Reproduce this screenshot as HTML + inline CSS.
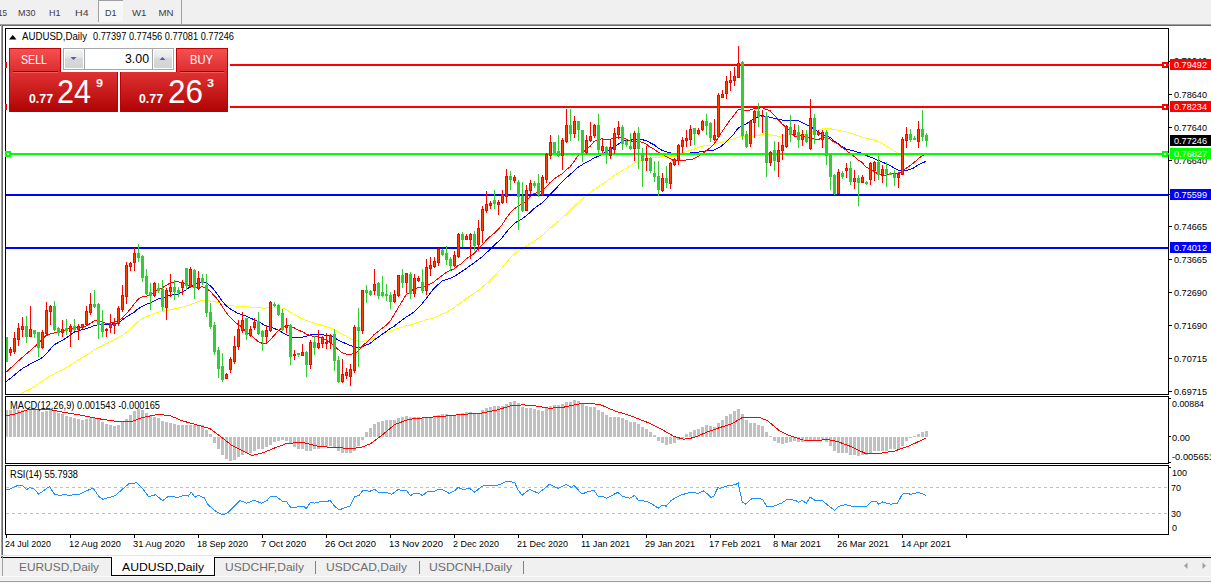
<!DOCTYPE html>
<html><head><meta charset="utf-8"><style>
html,body{margin:0;padding:0;background:#f0f0f0;}
svg{display:block;font-family:"Liberation Sans", sans-serif;}
</style></head><body>
<svg width="1211" height="583" viewBox="0 0 1211 583" shape-rendering="crispEdges">
<rect x="0" y="0" width="1211" height="583" fill="#f0f0f0"/>
<rect x="0" y="26" width="1211" height="531" fill="#ffffff"/>
<rect x="0" y="24" width="1211" height="1" fill="#a0a0a0"/>
<rect x="0" y="25" width="1211" height="1" fill="#696969"/>
<rect x="1" y="24" width="1" height="553" fill="#a0a0a0"/>
<rect x="2" y="25" width="1" height="551" fill="#696969"/>
<rect x="98" y="0" width="25" height="22" fill="#f7f7f7"/>
<rect x="98" y="0" width="25" height="1" fill="#a0a0a0"/>
<rect x="98" y="0" width="1" height="22" fill="#a0a0a0"/>
<rect x="181" y="0" width="1" height="24" fill="#a0a0a0"/>
<text x="-2" y="16" font-size="9.6" fill="#3c3c3c" textLength="9" lengthAdjust="spacingAndGlyphs">15</text>
<text x="18" y="16" font-size="9.6" fill="#3c3c3c" textLength="17.5" lengthAdjust="spacingAndGlyphs">M30</text>
<text x="49" y="16" font-size="9.6" fill="#3c3c3c" textLength="11.5" lengthAdjust="spacingAndGlyphs">H1</text>
<text x="75" y="16" font-size="9.6" fill="#3c3c3c" textLength="13.5" lengthAdjust="spacingAndGlyphs">H4</text>
<text x="105" y="16" font-size="9.6" fill="#3c3c3c" textLength="11.5" lengthAdjust="spacingAndGlyphs">D1</text>
<text x="132" y="16" font-size="9.6" fill="#3c3c3c" textLength="14.5" lengthAdjust="spacingAndGlyphs">W1</text>
<text x="158.5" y="16" font-size="9.6" fill="#3c3c3c" textLength="15" lengthAdjust="spacingAndGlyphs">MN</text>
<rect x="5" y="28" width="1164" height="1" fill="#000"/>
<rect x="5" y="394" width="1164" height="1" fill="#000"/>
<rect x="5" y="28" width="1" height="367" fill="#000"/>
<rect x="1168" y="28" width="1" height="367" fill="#000"/>
<rect x="5" y="396" width="1164" height="1" fill="#000"/>
<rect x="5" y="463" width="1164" height="1" fill="#000"/>
<rect x="5" y="396" width="1" height="68" fill="#000"/>
<rect x="1168" y="396" width="1" height="68" fill="#000"/>
<rect x="5" y="465" width="1164" height="1" fill="#000"/>
<rect x="5" y="534" width="1164" height="1" fill="#000"/>
<rect x="5" y="465" width="1" height="70" fill="#000"/>
<rect x="1168" y="465" width="1" height="70" fill="#000"/>
<defs><clipPath id="cm"><rect x="6" y="29" width="1162" height="365"/></clipPath><clipPath id="cd"><rect x="6" y="397" width="1162" height="66"/></clipPath><clipPath id="cr"><rect x="6" y="466" width="1162" height="68"/></clipPath></defs>
<g clip-path="url(#cm)">
<polyline points="6.0,404.0 10.0,401.1 14.0,398.2 18.0,395.3 22.0,393.0 26.0,391.2 30.0,389.3 34.0,386.6 38.0,383.9 42.0,381.2 46.0,378.5 50.0,375.8 54.0,373.9 58.0,371.9 62.0,370.0 66.0,367.8 70.0,365.3 74.0,362.8 78.0,360.4 82.0,357.8 86.0,355.3 90.0,352.8 94.0,350.2 98.0,347.7 102.0,345.7 106.0,343.7 110.0,341.7 114.0,339.7 118.0,337.7 122.0,335.6 126.0,332.7 130.0,329.0 134.0,325.4 138.0,321.7 142.0,318.6 146.0,317.0 150.0,315.4 154.0,313.7 158.0,312.1 162.0,311.5 166.0,310.7 170.0,309.8 174.0,308.9 178.0,308.2 182.0,307.3 186.0,306.1 190.0,304.6 194.0,303.4 198.0,301.7 202.0,300.4 206.0,300.5 210.0,301.0 214.0,301.5 218.0,302.4 222.0,303.7 226.0,304.8 230.0,305.6 234.0,306.0 238.0,306.1 242.0,306.0 246.0,306.6 250.0,307.2 254.0,307.6 258.0,307.8 262.0,308.0 266.0,308.0 270.0,307.5 274.0,307.0 278.0,307.2 282.0,308.0 286.0,309.5 290.0,311.9 294.0,314.4 298.0,316.8 302.0,318.7 306.0,320.4 310.0,321.6 314.0,323.2 318.0,324.5 322.0,325.3 326.0,326.6 330.0,327.8 334.0,329.5 338.0,331.7 342.0,334.0 346.0,336.2 350.0,338.7 354.0,339.7 358.0,341.0 362.0,341.2 366.0,340.8 370.0,340.0 374.0,338.3 378.0,336.5 382.0,334.4 386.0,332.4 390.0,330.9 394.0,329.6 398.0,328.2 402.0,327.3 406.0,325.8 410.0,324.9 414.0,323.8 418.0,322.4 422.0,321.3 426.0,319.7 430.0,318.8 434.0,317.7 438.0,316.0 442.0,314.1 446.0,312.5 450.0,310.2 454.0,307.7 458.0,304.7 462.0,301.9 466.0,298.7 470.0,296.0 474.0,293.5 478.0,290.6 482.0,287.4 486.0,283.9 490.0,280.7 494.0,276.7 498.0,272.2 502.0,267.7 506.0,262.8 510.0,258.1 514.0,254.3 518.0,251.0 522.0,249.0 526.0,246.4 530.0,243.6 534.0,241.2 538.0,238.7 542.0,235.7 546.0,232.2 550.0,228.2 554.0,224.7 558.0,221.7 562.0,218.1 566.0,214.4 570.0,210.4 574.0,206.5 578.0,202.8 582.0,199.3 586.0,196.2 590.0,192.9 594.0,189.5 598.0,187.0 602.0,184.3 606.0,181.7 610.0,178.8 614.0,175.7 618.0,173.1 622.0,170.7 626.0,168.4 630.0,166.2 634.0,163.4 638.0,161.4 642.0,160.2 646.0,159.0 650.0,158.2 654.0,157.5 658.0,157.2 662.0,156.8 666.0,157.0 670.0,156.6 674.0,156.2 678.0,154.9 682.0,153.1 686.0,151.8 690.0,150.5 694.0,149.2 698.0,147.6 702.0,146.2 706.0,145.5 710.0,145.3 714.0,144.9 718.0,143.4 722.0,142.3 726.0,141.2 730.0,139.8 734.0,138.7 738.0,137.1 742.0,136.7 746.0,136.8 750.0,136.4 754.0,136.1 758.0,135.3 762.0,134.5 766.0,134.7 770.0,134.8 774.0,135.5 778.0,136.1 782.0,136.1 786.0,135.7 790.0,135.3 794.0,135.3 798.0,135.1 802.0,134.4 806.0,134.0 810.0,132.7 814.0,131.6 818.0,130.2 822.0,129.0 826.0,128.4 830.0,128.7 834.0,129.5 838.0,130.2 842.0,131.1 846.0,131.8 850.0,133.1 854.0,134.3 858.0,135.5 862.0,137.0 866.0,138.4 870.0,139.1 874.0,139.7 878.0,141.7 882.0,143.6 886.0,145.9 890.0,148.2 894.0,150.8 898.0,153.5 902.0,153.6 906.0,153.3 910.0,153.7 914.0,154.4 918.0,154.7 922.0,155.2 926.0,154.7" fill="none" stroke="#ffff00" stroke-width="1"/>
<polyline points="6.0,381.9 10.0,378.6 14.0,375.3 18.0,372.1 22.0,368.8 26.0,366.4 30.0,364.2 34.0,362.1 38.0,360.0 42.0,357.8 46.0,354.1 50.0,349.4 54.0,344.8 58.0,342.7 62.0,340.6 66.0,338.0 70.0,335.1 74.0,332.2 78.0,330.9 82.0,329.8 86.0,328.8 90.0,327.3 94.0,325.7 98.0,324.8 102.0,324.8 106.0,324.8 110.0,324.2 114.0,323.9 118.0,322.7 122.0,320.2 126.0,317.0 130.0,314.8 134.0,312.3 138.0,308.9 142.0,306.3 146.0,304.6 150.0,302.9 154.0,300.9 158.0,299.0 162.0,298.1 166.0,296.5 170.0,295.4 174.0,294.7 178.0,294.0 182.0,292.1 186.0,289.9 190.0,287.0 194.0,285.3 198.0,283.1 202.0,281.9 206.0,282.7 210.0,285.6 214.0,289.7 218.0,295.2 222.0,301.0 226.0,305.6 230.0,308.7 234.0,311.2 238.0,313.4 242.0,314.8 246.0,316.1 250.0,318.0 254.0,319.6 258.0,321.6 262.0,323.7 266.0,326.0 270.0,326.8 274.0,328.5 278.0,329.9 282.0,332.3 286.0,334.4 290.0,336.5 294.0,337.8 298.0,338.0 302.0,337.2 306.0,336.5 310.0,335.0 314.0,334.4 318.0,334.2 322.0,334.6 326.0,335.6 330.0,335.7 334.0,337.2 338.0,340.0 342.0,341.9 346.0,343.7 350.0,345.5 354.0,346.7 358.0,347.9 362.0,346.8 366.0,345.0 370.0,343.5 374.0,340.1 378.0,337.3 382.0,334.4 386.0,331.7 390.0,328.7 394.0,326.4 398.0,323.0 402.0,320.1 406.0,317.1 410.0,314.7 414.0,312.0 418.0,308.1 422.0,303.8 426.0,298.7 430.0,293.6 434.0,288.4 438.0,284.7 442.0,281.1 446.0,279.6 450.0,278.3 454.0,276.5 458.0,274.1 462.0,271.4 466.0,268.6 470.0,265.7 474.0,263.0 478.0,259.9 482.0,256.8 486.0,253.1 490.0,249.7 494.0,245.5 498.0,241.8 502.0,237.8 506.0,232.4 510.0,228.2 514.0,224.0 518.0,220.9 522.0,219.0 526.0,216.0 530.0,212.4 534.0,208.6 538.0,205.7 542.0,203.0 546.0,198.9 550.0,194.5 554.0,190.6 558.0,186.3 562.0,182.1 566.0,178.0 570.0,174.7 574.0,170.8 578.0,167.3 582.0,164.9 586.0,162.3 590.0,160.5 594.0,157.9 598.0,156.5 602.0,154.2 606.0,151.5 610.0,149.5 614.0,147.1 618.0,144.3 622.0,141.9 626.0,140.3 630.0,140.0 634.0,139.6 638.0,139.4 642.0,139.7 646.0,140.5 650.0,142.7 654.0,144.7 658.0,147.9 662.0,150.3 666.0,151.8 670.0,152.8 674.0,153.9 678.0,154.9 682.0,154.5 686.0,154.1 690.0,152.9 694.0,152.2 698.0,152.1 702.0,151.8 706.0,150.9 710.0,150.6 714.0,150.0 718.0,148.2 722.0,145.6 726.0,141.9 730.0,138.2 734.0,133.7 738.0,128.3 742.0,125.7 746.0,124.2 750.0,121.3 754.0,118.8 758.0,116.8 762.0,115.4 766.0,116.4 770.0,117.1 774.0,118.5 778.0,119.3 782.0,120.0 786.0,120.3 790.0,120.7 794.0,120.4 798.0,120.6 802.0,122.5 806.0,124.7 810.0,126.4 814.0,129.1 818.0,131.8 822.0,135.0 826.0,136.0 830.0,137.4 834.0,140.8 838.0,143.7 842.0,146.5 846.0,149.0 850.0,149.9 854.0,151.1 858.0,152.2 862.0,153.5 866.0,155.3 870.0,157.1 874.0,158.3 878.0,160.4 882.0,161.9 886.0,163.7 890.0,165.3 894.0,168.1 898.0,170.0 902.0,170.3 906.0,170.4 910.0,169.6 914.0,167.8 918.0,164.8 922.0,163.1 926.0,161.4" fill="none" stroke="#0000ff" stroke-width="1"/>
<polyline points="6.0,372.2 10.0,368.6 14.0,364.9 18.0,361.3 22.0,357.7 26.0,354.2 30.0,350.8 34.0,347.3 38.0,343.6 42.0,339.6 46.0,335.6 50.0,334.0 54.0,333.1 58.0,332.3 62.0,331.1 66.0,329.7 70.0,328.5 74.0,328.0 78.0,327.9 82.0,327.2 86.0,325.9 90.0,323.8 94.0,320.9 98.0,320.3 102.0,321.8 106.0,323.4 110.0,323.1 114.0,322.4 118.0,320.9 122.0,318.4 126.0,314.1 130.0,309.4 134.0,304.2 138.0,299.4 142.0,297.0 146.0,296.2 150.0,295.4 154.0,292.5 158.0,289.6 162.0,288.0 166.0,285.6 170.0,283.1 174.0,281.9 178.0,281.6 182.0,282.8 186.0,284.4 190.0,285.5 194.0,287.6 198.0,287.6 202.0,286.8 206.0,288.0 210.0,291.1 214.0,295.4 218.0,299.8 222.0,306.2 226.0,312.3 230.0,317.2 234.0,321.2 238.0,324.5 242.0,327.0 246.0,331.7 250.0,334.6 254.0,337.8 258.0,341.5 262.0,343.2 266.0,343.5 270.0,340.1 274.0,335.5 278.0,330.9 282.0,327.7 286.0,325.3 290.0,326.0 294.0,327.7 298.0,330.2 302.0,331.5 306.0,334.0 310.0,335.4 314.0,336.4 318.0,336.9 322.0,337.4 326.0,340.2 330.0,342.3 334.0,345.6 338.0,349.4 342.0,352.8 346.0,354.0 350.0,355.1 354.0,353.1 358.0,351.5 362.0,346.3 366.0,342.8 370.0,339.0 374.0,334.7 378.0,331.7 382.0,328.4 386.0,325.5 390.0,321.3 394.0,315.1 398.0,308.0 402.0,301.5 406.0,294.7 410.0,292.2 414.0,288.6 418.0,287.7 422.0,287.5 426.0,285.6 430.0,284.2 434.0,281.8 438.0,278.6 442.0,275.6 446.0,272.7 450.0,270.6 454.0,269.1 458.0,265.7 462.0,263.3 466.0,259.2 470.0,256.0 474.0,253.7 478.0,249.2 482.0,245.1 486.0,240.7 490.0,236.6 494.0,233.3 498.0,229.6 502.0,224.9 506.0,218.6 510.0,213.2 514.0,209.1 518.0,206.0 522.0,204.2 526.0,201.1 530.0,196.7 534.0,193.6 538.0,192.5 542.0,190.6 546.0,187.1 550.0,182.7 554.0,179.1 558.0,176.4 562.0,173.8 566.0,169.9 570.0,166.8 574.0,161.5 578.0,155.7 582.0,153.0 586.0,149.9 590.0,146.4 594.0,141.5 598.0,139.5 602.0,138.9 606.0,139.8 610.0,139.5 614.0,137.9 618.0,137.0 622.0,138.3 626.0,139.0 630.0,140.9 634.0,141.2 638.0,140.9 642.0,142.3 646.0,143.9 650.0,147.1 654.0,149.1 658.0,152.1 662.0,153.9 666.0,156.4 670.0,158.5 674.0,160.8 678.0,160.9 682.0,160.7 686.0,160.0 690.0,159.8 694.0,158.7 698.0,156.5 702.0,153.9 706.0,150.7 710.0,147.9 714.0,144.0 718.0,138.1 722.0,131.7 726.0,125.9 730.0,120.2 734.0,115.3 738.0,109.8 742.0,109.6 746.0,110.8 750.0,110.0 754.0,108.6 758.0,108.3 762.0,107.6 766.0,109.4 770.0,110.6 774.0,115.2 778.0,119.2 782.0,123.8 786.0,127.1 790.0,131.3 794.0,136.1 798.0,136.3 802.0,135.4 806.0,136.9 810.0,137.4 814.0,138.6 818.0,139.8 822.0,137.7 826.0,137.9 830.0,139.1 834.0,142.1 838.0,144.0 842.0,147.6 846.0,150.0 850.0,153.6 854.0,156.4 858.0,159.8 862.0,162.4 866.0,167.0 870.0,169.1 874.0,171.2 878.0,174.2 882.0,175.2 886.0,175.0 890.0,173.7 894.0,174.0 898.0,173.8 902.0,171.8 906.0,168.4 910.0,165.6 914.0,162.5 918.0,159.1 922.0,155.8 926.0,154.1" fill="none" stroke="#ff0000" stroke-width="1"/>
<rect x="6" y="64" width="1162" height="2" fill="#ff0000"/>
<rect x="6" y="106" width="1162" height="2" fill="#ff0000"/>
<rect x="6" y="153" width="1162" height="2" fill="#00ff00"/>
<rect x="6" y="194" width="1162" height="2" fill="#0000ff"/>
<rect x="6" y="247" width="1162" height="2" fill="#0000ff"/>
<rect x="6" y="337" width="1" height="25" fill="#32cd32"/>
<rect x="5" y="337" width="3" height="25" fill="#32cd32"/>
<rect x="10" y="347" width="1" height="9" fill="#ff0000"/>
<rect x="9" y="349" width="3" height="4" fill="#ff0000"/>
<rect x="10" y="350" width="1" height="2" fill="#ff4000"/>
<rect x="14" y="332" width="1" height="22" fill="#ff0000"/>
<rect x="13" y="338" width="3" height="14" fill="#ff0000"/>
<rect x="14" y="339" width="1" height="12" fill="#ff4000"/>
<rect x="18" y="323" width="1" height="23" fill="#ff0000"/>
<rect x="17" y="328" width="3" height="12" fill="#ff0000"/>
<rect x="18" y="329" width="1" height="10" fill="#ff4000"/>
<rect x="22" y="317" width="1" height="20" fill="#ff0000"/>
<rect x="21" y="326" width="3" height="4" fill="#ff0000"/>
<rect x="22" y="327" width="1" height="2" fill="#ff4000"/>
<rect x="26" y="316" width="1" height="27" fill="#32cd32"/>
<rect x="25" y="326" width="3" height="11" fill="#32cd32"/>
<rect x="30" y="306" width="1" height="31" fill="#ff0000"/>
<rect x="29" y="329" width="3" height="8" fill="#ff0000"/>
<rect x="30" y="330" width="1" height="6" fill="#ff4000"/>
<rect x="34" y="330" width="1" height="8" fill="#32cd32"/>
<rect x="33" y="330" width="3" height="4" fill="#32cd32"/>
<rect x="38" y="332" width="1" height="25" fill="#32cd32"/>
<rect x="37" y="332" width="3" height="16" fill="#32cd32"/>
<rect x="42" y="330" width="1" height="19" fill="#ff0000"/>
<rect x="41" y="332" width="3" height="16" fill="#ff0000"/>
<rect x="42" y="333" width="1" height="14" fill="#ff4000"/>
<rect x="46" y="302" width="1" height="34" fill="#ff0000"/>
<rect x="45" y="310" width="3" height="24" fill="#ff0000"/>
<rect x="46" y="311" width="1" height="22" fill="#ff4000"/>
<rect x="50" y="305" width="1" height="20" fill="#ff0000"/>
<rect x="49" y="306" width="3" height="6" fill="#ff0000"/>
<rect x="50" y="307" width="1" height="4" fill="#ff4000"/>
<rect x="54" y="301" width="1" height="30" fill="#32cd32"/>
<rect x="53" y="306" width="3" height="24" fill="#32cd32"/>
<rect x="58" y="327" width="1" height="9" fill="#32cd32"/>
<rect x="57" y="328" width="3" height="5" fill="#32cd32"/>
<rect x="62" y="320" width="1" height="17" fill="#ff0000"/>
<rect x="61" y="329" width="3" height="4" fill="#ff0000"/>
<rect x="62" y="330" width="1" height="2" fill="#ff4000"/>
<rect x="66" y="319" width="1" height="16" fill="#32cd32"/>
<rect x="65" y="328" width="3" height="3" fill="#32cd32"/>
<rect x="70" y="324" width="1" height="23" fill="#ff0000"/>
<rect x="69" y="326" width="3" height="6" fill="#ff0000"/>
<rect x="70" y="327" width="1" height="4" fill="#ff4000"/>
<rect x="74" y="319" width="1" height="12" fill="#32cd32"/>
<rect x="73" y="326" width="3" height="4" fill="#32cd32"/>
<rect x="78" y="324" width="1" height="16" fill="#ff0000"/>
<rect x="77" y="326" width="3" height="4" fill="#ff0000"/>
<rect x="78" y="327" width="1" height="2" fill="#ff4000"/>
<rect x="82" y="324" width="1" height="5" fill="#ff0000"/>
<rect x="81" y="324" width="3" height="4" fill="#ff0000"/>
<rect x="82" y="325" width="1" height="2" fill="#ff4000"/>
<rect x="86" y="306" width="1" height="20" fill="#ff0000"/>
<rect x="85" y="311" width="3" height="14" fill="#ff0000"/>
<rect x="86" y="312" width="1" height="12" fill="#ff4000"/>
<rect x="90" y="293" width="1" height="22" fill="#ff0000"/>
<rect x="89" y="304" width="3" height="9" fill="#ff0000"/>
<rect x="90" y="305" width="1" height="7" fill="#ff4000"/>
<rect x="94" y="290" width="1" height="18" fill="#32cd32"/>
<rect x="93" y="304" width="3" height="3" fill="#32cd32"/>
<rect x="98" y="303" width="1" height="36" fill="#32cd32"/>
<rect x="97" y="304" width="3" height="21" fill="#32cd32"/>
<rect x="102" y="310" width="1" height="27" fill="#32cd32"/>
<rect x="101" y="323" width="3" height="9" fill="#32cd32"/>
<rect x="106" y="328" width="1" height="9" fill="#ff0000"/>
<rect x="105" y="329" width="3" height="2" fill="#ff0000"/>
<rect x="110" y="314" width="1" height="19" fill="#ff0000"/>
<rect x="109" y="324" width="3" height="4" fill="#ff0000"/>
<rect x="110" y="325" width="1" height="2" fill="#ff4000"/>
<rect x="114" y="318" width="1" height="16" fill="#ff0000"/>
<rect x="113" y="323" width="3" height="3" fill="#ff0000"/>
<rect x="114" y="324" width="1" height="1" fill="#ff4000"/>
<rect x="118" y="306" width="1" height="20" fill="#ff0000"/>
<rect x="117" y="308" width="3" height="16" fill="#ff0000"/>
<rect x="118" y="309" width="1" height="14" fill="#ff4000"/>
<rect x="122" y="285" width="1" height="27" fill="#ff0000"/>
<rect x="121" y="295" width="3" height="15" fill="#ff0000"/>
<rect x="122" y="296" width="1" height="13" fill="#ff4000"/>
<rect x="126" y="262" width="1" height="42" fill="#ff0000"/>
<rect x="125" y="265" width="3" height="32" fill="#ff0000"/>
<rect x="126" y="266" width="1" height="30" fill="#ff4000"/>
<rect x="130" y="262" width="1" height="9" fill="#ff0000"/>
<rect x="129" y="263" width="3" height="4" fill="#ff0000"/>
<rect x="130" y="264" width="1" height="2" fill="#ff4000"/>
<rect x="134" y="248" width="1" height="23" fill="#ff0000"/>
<rect x="133" y="253" width="3" height="10" fill="#ff0000"/>
<rect x="134" y="254" width="1" height="8" fill="#ff4000"/>
<rect x="138" y="244" width="1" height="18" fill="#32cd32"/>
<rect x="137" y="253" width="3" height="5" fill="#32cd32"/>
<rect x="142" y="255" width="1" height="27" fill="#32cd32"/>
<rect x="141" y="256" width="3" height="22" fill="#32cd32"/>
<rect x="146" y="269" width="1" height="26" fill="#32cd32"/>
<rect x="145" y="276" width="3" height="18" fill="#32cd32"/>
<rect x="150" y="283" width="1" height="27" fill="#32cd32"/>
<rect x="149" y="292" width="3" height="4" fill="#32cd32"/>
<rect x="154" y="282" width="1" height="15" fill="#ff0000"/>
<rect x="153" y="283" width="3" height="13" fill="#ff0000"/>
<rect x="154" y="284" width="1" height="11" fill="#ff4000"/>
<rect x="158" y="283" width="1" height="10" fill="#32cd32"/>
<rect x="157" y="288" width="3" height="3" fill="#32cd32"/>
<rect x="162" y="280" width="1" height="31" fill="#32cd32"/>
<rect x="161" y="289" width="3" height="18" fill="#32cd32"/>
<rect x="166" y="288" width="1" height="32" fill="#ff0000"/>
<rect x="165" y="290" width="3" height="18" fill="#ff0000"/>
<rect x="166" y="291" width="1" height="16" fill="#ff4000"/>
<rect x="170" y="274" width="1" height="23" fill="#ff0000"/>
<rect x="169" y="287" width="3" height="5" fill="#ff0000"/>
<rect x="170" y="288" width="1" height="3" fill="#ff4000"/>
<rect x="174" y="280" width="1" height="20" fill="#32cd32"/>
<rect x="173" y="287" width="3" height="5" fill="#32cd32"/>
<rect x="178" y="287" width="1" height="10" fill="#32cd32"/>
<rect x="177" y="290" width="3" height="3" fill="#32cd32"/>
<rect x="182" y="280" width="1" height="15" fill="#ff0000"/>
<rect x="181" y="282" width="3" height="6" fill="#ff0000"/>
<rect x="182" y="283" width="1" height="4" fill="#ff4000"/>
<rect x="186" y="268" width="1" height="22" fill="#32cd32"/>
<rect x="185" y="268" width="3" height="18" fill="#32cd32"/>
<rect x="190" y="267" width="1" height="21" fill="#ff0000"/>
<rect x="189" y="269" width="3" height="18" fill="#ff0000"/>
<rect x="190" y="270" width="1" height="16" fill="#ff4000"/>
<rect x="194" y="269" width="1" height="30" fill="#32cd32"/>
<rect x="193" y="270" width="3" height="18" fill="#32cd32"/>
<rect x="198" y="271" width="1" height="19" fill="#ff0000"/>
<rect x="197" y="278" width="3" height="11" fill="#ff0000"/>
<rect x="198" y="279" width="1" height="9" fill="#ff4000"/>
<rect x="202" y="274" width="1" height="11" fill="#32cd32"/>
<rect x="201" y="278" width="3" height="5" fill="#32cd32"/>
<rect x="206" y="274" width="1" height="43" fill="#32cd32"/>
<rect x="205" y="285" width="3" height="28" fill="#32cd32"/>
<rect x="210" y="303" width="1" height="26" fill="#32cd32"/>
<rect x="209" y="312" width="3" height="15" fill="#32cd32"/>
<rect x="214" y="322" width="1" height="33" fill="#32cd32"/>
<rect x="213" y="325" width="3" height="27" fill="#32cd32"/>
<rect x="218" y="347" width="1" height="31" fill="#32cd32"/>
<rect x="217" y="350" width="3" height="19" fill="#32cd32"/>
<rect x="222" y="353" width="1" height="29" fill="#32cd32"/>
<rect x="221" y="366" width="3" height="14" fill="#32cd32"/>
<rect x="226" y="373" width="1" height="6" fill="#ff0000"/>
<rect x="225" y="374" width="3" height="5" fill="#ff0000"/>
<rect x="226" y="375" width="1" height="3" fill="#ff4000"/>
<rect x="230" y="357" width="1" height="16" fill="#ff0000"/>
<rect x="229" y="359" width="3" height="11" fill="#ff0000"/>
<rect x="230" y="360" width="1" height="9" fill="#ff4000"/>
<rect x="234" y="336" width="1" height="28" fill="#ff0000"/>
<rect x="233" y="346" width="3" height="16" fill="#ff0000"/>
<rect x="234" y="347" width="1" height="14" fill="#ff4000"/>
<rect x="238" y="320" width="1" height="30" fill="#ff0000"/>
<rect x="237" y="329" width="3" height="18" fill="#ff0000"/>
<rect x="238" y="330" width="1" height="16" fill="#ff4000"/>
<rect x="242" y="312" width="1" height="21" fill="#ff0000"/>
<rect x="241" y="320" width="3" height="11" fill="#ff0000"/>
<rect x="242" y="321" width="1" height="9" fill="#ff4000"/>
<rect x="246" y="318" width="1" height="22" fill="#32cd32"/>
<rect x="245" y="318" width="3" height="17" fill="#32cd32"/>
<rect x="250" y="326" width="1" height="11" fill="#ff0000"/>
<rect x="249" y="329" width="3" height="7" fill="#ff0000"/>
<rect x="250" y="330" width="1" height="5" fill="#ff4000"/>
<rect x="254" y="318" width="1" height="12" fill="#ff0000"/>
<rect x="253" y="322" width="3" height="6" fill="#ff0000"/>
<rect x="254" y="323" width="1" height="4" fill="#ff4000"/>
<rect x="258" y="312" width="1" height="23" fill="#32cd32"/>
<rect x="257" y="321" width="3" height="13" fill="#32cd32"/>
<rect x="262" y="330" width="1" height="21" fill="#32cd32"/>
<rect x="261" y="331" width="3" height="6" fill="#32cd32"/>
<rect x="266" y="325" width="1" height="18" fill="#ff0000"/>
<rect x="265" y="330" width="3" height="7" fill="#ff0000"/>
<rect x="266" y="331" width="1" height="5" fill="#ff4000"/>
<rect x="270" y="301" width="1" height="31" fill="#ff0000"/>
<rect x="269" y="302" width="3" height="29" fill="#ff0000"/>
<rect x="270" y="303" width="1" height="27" fill="#ff4000"/>
<rect x="274" y="302" width="1" height="5" fill="#32cd32"/>
<rect x="273" y="304" width="3" height="2" fill="#32cd32"/>
<rect x="278" y="304" width="1" height="12" fill="#32cd32"/>
<rect x="277" y="305" width="3" height="10" fill="#32cd32"/>
<rect x="282" y="309" width="1" height="22" fill="#32cd32"/>
<rect x="281" y="313" width="3" height="17" fill="#32cd32"/>
<rect x="286" y="318" width="1" height="15" fill="#ff0000"/>
<rect x="285" y="325" width="3" height="3" fill="#ff0000"/>
<rect x="286" y="326" width="1" height="1" fill="#ff4000"/>
<rect x="290" y="324" width="1" height="41" fill="#32cd32"/>
<rect x="289" y="325" width="3" height="32" fill="#32cd32"/>
<rect x="294" y="350" width="1" height="10" fill="#ff0000"/>
<rect x="293" y="354" width="3" height="2" fill="#ff0000"/>
<rect x="298" y="353" width="1" height="4" fill="#32cd32"/>
<rect x="297" y="353" width="3" height="2" fill="#32cd32"/>
<rect x="302" y="344" width="1" height="12" fill="#ff0000"/>
<rect x="301" y="352" width="3" height="4" fill="#ff0000"/>
<rect x="302" y="353" width="1" height="2" fill="#ff4000"/>
<rect x="306" y="351" width="1" height="26" fill="#32cd32"/>
<rect x="305" y="352" width="3" height="13" fill="#32cd32"/>
<rect x="310" y="340" width="1" height="29" fill="#ff0000"/>
<rect x="309" y="342" width="3" height="23" fill="#ff0000"/>
<rect x="310" y="343" width="1" height="21" fill="#ff4000"/>
<rect x="314" y="336" width="1" height="19" fill="#32cd32"/>
<rect x="313" y="342" width="3" height="6" fill="#32cd32"/>
<rect x="318" y="330" width="1" height="19" fill="#ff0000"/>
<rect x="317" y="343" width="3" height="5" fill="#ff0000"/>
<rect x="318" y="344" width="1" height="3" fill="#ff4000"/>
<rect x="322" y="336" width="1" height="12" fill="#ff0000"/>
<rect x="321" y="337" width="3" height="7" fill="#ff0000"/>
<rect x="322" y="338" width="1" height="5" fill="#ff4000"/>
<rect x="326" y="333" width="1" height="16" fill="#ff0000"/>
<rect x="325" y="342" width="3" height="2" fill="#ff0000"/>
<rect x="330" y="334" width="1" height="15" fill="#ff0000"/>
<rect x="329" y="335" width="3" height="8" fill="#ff0000"/>
<rect x="330" y="336" width="1" height="6" fill="#ff4000"/>
<rect x="334" y="329" width="1" height="42" fill="#32cd32"/>
<rect x="333" y="334" width="3" height="27" fill="#32cd32"/>
<rect x="338" y="356" width="1" height="27" fill="#32cd32"/>
<rect x="337" y="360" width="3" height="22" fill="#32cd32"/>
<rect x="342" y="359" width="1" height="24" fill="#ff0000"/>
<rect x="341" y="374" width="3" height="8" fill="#ff0000"/>
<rect x="342" y="375" width="1" height="6" fill="#ff4000"/>
<rect x="346" y="368" width="1" height="11" fill="#ff0000"/>
<rect x="345" y="372" width="3" height="4" fill="#ff0000"/>
<rect x="346" y="373" width="1" height="2" fill="#ff4000"/>
<rect x="350" y="364" width="1" height="22" fill="#ff0000"/>
<rect x="349" y="369" width="3" height="8" fill="#ff0000"/>
<rect x="350" y="370" width="1" height="6" fill="#ff4000"/>
<rect x="354" y="325" width="1" height="48" fill="#ff0000"/>
<rect x="353" y="327" width="3" height="44" fill="#ff0000"/>
<rect x="354" y="328" width="1" height="42" fill="#ff4000"/>
<rect x="358" y="308" width="1" height="59" fill="#32cd32"/>
<rect x="357" y="327" width="3" height="4" fill="#32cd32"/>
<rect x="362" y="290" width="1" height="44" fill="#ff0000"/>
<rect x="361" y="290" width="3" height="41" fill="#ff0000"/>
<rect x="362" y="291" width="1" height="39" fill="#ff4000"/>
<rect x="366" y="285" width="1" height="18" fill="#32cd32"/>
<rect x="365" y="290" width="3" height="3" fill="#32cd32"/>
<rect x="370" y="290" width="1" height="6" fill="#32cd32"/>
<rect x="369" y="291" width="3" height="4" fill="#32cd32"/>
<rect x="374" y="269" width="1" height="26" fill="#ff0000"/>
<rect x="373" y="284" width="3" height="7" fill="#ff0000"/>
<rect x="374" y="285" width="1" height="5" fill="#ff4000"/>
<rect x="378" y="282" width="1" height="17" fill="#32cd32"/>
<rect x="377" y="283" width="3" height="13" fill="#32cd32"/>
<rect x="382" y="276" width="1" height="21" fill="#32cd32"/>
<rect x="381" y="292" width="3" height="4" fill="#32cd32"/>
<rect x="386" y="284" width="1" height="17" fill="#32cd32"/>
<rect x="385" y="294" width="3" height="2" fill="#32cd32"/>
<rect x="390" y="292" width="1" height="17" fill="#32cd32"/>
<rect x="389" y="295" width="3" height="7" fill="#32cd32"/>
<rect x="394" y="290" width="1" height="13" fill="#ff0000"/>
<rect x="393" y="294" width="3" height="8" fill="#ff0000"/>
<rect x="394" y="295" width="1" height="6" fill="#ff4000"/>
<rect x="398" y="275" width="1" height="22" fill="#ff0000"/>
<rect x="397" y="275" width="3" height="21" fill="#ff0000"/>
<rect x="398" y="276" width="1" height="19" fill="#ff4000"/>
<rect x="402" y="269" width="1" height="19" fill="#32cd32"/>
<rect x="401" y="275" width="3" height="8" fill="#32cd32"/>
<rect x="406" y="273" width="1" height="20" fill="#ff0000"/>
<rect x="405" y="273" width="3" height="10" fill="#ff0000"/>
<rect x="406" y="274" width="1" height="8" fill="#ff4000"/>
<rect x="410" y="272" width="1" height="27" fill="#32cd32"/>
<rect x="409" y="274" width="3" height="20" fill="#32cd32"/>
<rect x="414" y="274" width="1" height="23" fill="#ff0000"/>
<rect x="413" y="278" width="3" height="16" fill="#ff0000"/>
<rect x="414" y="279" width="1" height="14" fill="#ff4000"/>
<rect x="418" y="276" width="1" height="6" fill="#ff0000"/>
<rect x="417" y="278" width="3" height="3" fill="#ff0000"/>
<rect x="418" y="279" width="1" height="1" fill="#ff4000"/>
<rect x="422" y="269" width="1" height="24" fill="#32cd32"/>
<rect x="421" y="282" width="3" height="9" fill="#32cd32"/>
<rect x="426" y="259" width="1" height="36" fill="#ff0000"/>
<rect x="425" y="267" width="3" height="24" fill="#ff0000"/>
<rect x="426" y="268" width="1" height="22" fill="#ff4000"/>
<rect x="430" y="257" width="1" height="19" fill="#ff0000"/>
<rect x="429" y="265" width="3" height="4" fill="#ff0000"/>
<rect x="430" y="266" width="1" height="2" fill="#ff4000"/>
<rect x="434" y="257" width="1" height="11" fill="#ff0000"/>
<rect x="433" y="261" width="3" height="6" fill="#ff0000"/>
<rect x="434" y="262" width="1" height="4" fill="#ff4000"/>
<rect x="438" y="248" width="1" height="18" fill="#ff0000"/>
<rect x="437" y="249" width="3" height="14" fill="#ff0000"/>
<rect x="438" y="250" width="1" height="12" fill="#ff4000"/>
<rect x="442" y="249" width="1" height="7" fill="#32cd32"/>
<rect x="441" y="250" width="3" height="5" fill="#32cd32"/>
<rect x="446" y="246" width="1" height="19" fill="#32cd32"/>
<rect x="445" y="253" width="3" height="7" fill="#32cd32"/>
<rect x="450" y="257" width="1" height="14" fill="#32cd32"/>
<rect x="449" y="259" width="3" height="7" fill="#32cd32"/>
<rect x="454" y="251" width="1" height="16" fill="#ff0000"/>
<rect x="453" y="255" width="3" height="11" fill="#ff0000"/>
<rect x="454" y="256" width="1" height="9" fill="#ff4000"/>
<rect x="458" y="233" width="1" height="25" fill="#ff0000"/>
<rect x="457" y="234" width="3" height="23" fill="#ff0000"/>
<rect x="458" y="235" width="1" height="21" fill="#ff4000"/>
<rect x="462" y="232" width="1" height="15" fill="#32cd32"/>
<rect x="461" y="234" width="3" height="6" fill="#32cd32"/>
<rect x="466" y="234" width="1" height="6" fill="#ff0000"/>
<rect x="465" y="236" width="3" height="4" fill="#ff0000"/>
<rect x="466" y="237" width="1" height="2" fill="#ff4000"/>
<rect x="470" y="233" width="1" height="26" fill="#ff0000"/>
<rect x="469" y="234" width="3" height="6" fill="#ff0000"/>
<rect x="470" y="235" width="1" height="4" fill="#ff4000"/>
<rect x="474" y="231" width="1" height="20" fill="#32cd32"/>
<rect x="473" y="234" width="3" height="12" fill="#32cd32"/>
<rect x="478" y="220" width="1" height="31" fill="#ff0000"/>
<rect x="477" y="228" width="3" height="17" fill="#ff0000"/>
<rect x="478" y="229" width="1" height="15" fill="#ff4000"/>
<rect x="482" y="206" width="1" height="37" fill="#ff0000"/>
<rect x="481" y="209" width="3" height="22" fill="#ff0000"/>
<rect x="482" y="210" width="1" height="20" fill="#ff4000"/>
<rect x="486" y="191" width="1" height="22" fill="#ff0000"/>
<rect x="485" y="204" width="3" height="7" fill="#ff0000"/>
<rect x="486" y="205" width="1" height="5" fill="#ff4000"/>
<rect x="490" y="201" width="1" height="8" fill="#ff0000"/>
<rect x="489" y="203" width="3" height="3" fill="#ff0000"/>
<rect x="490" y="204" width="1" height="1" fill="#ff4000"/>
<rect x="494" y="190" width="1" height="19" fill="#32cd32"/>
<rect x="493" y="200" width="3" height="4" fill="#32cd32"/>
<rect x="498" y="200" width="1" height="15" fill="#ff0000"/>
<rect x="497" y="202" width="3" height="3" fill="#ff0000"/>
<rect x="498" y="203" width="1" height="1" fill="#ff4000"/>
<rect x="502" y="190" width="1" height="14" fill="#ff0000"/>
<rect x="501" y="194" width="3" height="9" fill="#ff0000"/>
<rect x="502" y="195" width="1" height="7" fill="#ff4000"/>
<rect x="506" y="169" width="1" height="34" fill="#ff0000"/>
<rect x="505" y="176" width="3" height="21" fill="#ff0000"/>
<rect x="506" y="177" width="1" height="19" fill="#ff4000"/>
<rect x="510" y="171" width="1" height="19" fill="#32cd32"/>
<rect x="509" y="176" width="3" height="4" fill="#32cd32"/>
<rect x="514" y="175" width="1" height="8" fill="#ff0000"/>
<rect x="513" y="177" width="3" height="4" fill="#ff0000"/>
<rect x="514" y="178" width="1" height="2" fill="#ff4000"/>
<rect x="518" y="180" width="1" height="50" fill="#32cd32"/>
<rect x="517" y="182" width="3" height="15" fill="#32cd32"/>
<rect x="522" y="182" width="1" height="30" fill="#32cd32"/>
<rect x="521" y="196" width="3" height="15" fill="#32cd32"/>
<rect x="526" y="185" width="1" height="26" fill="#ff0000"/>
<rect x="525" y="190" width="3" height="21" fill="#ff0000"/>
<rect x="526" y="191" width="1" height="19" fill="#ff4000"/>
<rect x="530" y="180" width="1" height="14" fill="#ff0000"/>
<rect x="529" y="183" width="3" height="8" fill="#ff0000"/>
<rect x="530" y="184" width="1" height="6" fill="#ff4000"/>
<rect x="534" y="181" width="1" height="7" fill="#32cd32"/>
<rect x="533" y="183" width="3" height="3" fill="#32cd32"/>
<rect x="538" y="174" width="1" height="23" fill="#32cd32"/>
<rect x="537" y="183" width="3" height="12" fill="#32cd32"/>
<rect x="542" y="175" width="1" height="21" fill="#ff0000"/>
<rect x="541" y="177" width="3" height="18" fill="#ff0000"/>
<rect x="542" y="178" width="1" height="16" fill="#ff4000"/>
<rect x="546" y="153" width="1" height="30" fill="#ff0000"/>
<rect x="545" y="154" width="3" height="26" fill="#ff0000"/>
<rect x="546" y="155" width="1" height="24" fill="#ff4000"/>
<rect x="550" y="135" width="1" height="24" fill="#ff0000"/>
<rect x="549" y="142" width="3" height="14" fill="#ff0000"/>
<rect x="550" y="143" width="1" height="12" fill="#ff4000"/>
<rect x="554" y="142" width="1" height="12" fill="#32cd32"/>
<rect x="553" y="142" width="3" height="11" fill="#32cd32"/>
<rect x="558" y="135" width="1" height="22" fill="#32cd32"/>
<rect x="557" y="151" width="3" height="5" fill="#32cd32"/>
<rect x="562" y="138" width="1" height="32" fill="#ff0000"/>
<rect x="561" y="140" width="3" height="16" fill="#ff0000"/>
<rect x="562" y="141" width="1" height="14" fill="#ff4000"/>
<rect x="566" y="109" width="1" height="34" fill="#ff0000"/>
<rect x="565" y="125" width="3" height="17" fill="#ff0000"/>
<rect x="566" y="126" width="1" height="15" fill="#ff4000"/>
<rect x="570" y="109" width="1" height="32" fill="#32cd32"/>
<rect x="569" y="125" width="3" height="9" fill="#32cd32"/>
<rect x="574" y="116" width="1" height="22" fill="#ff0000"/>
<rect x="573" y="121" width="3" height="13" fill="#ff0000"/>
<rect x="574" y="122" width="1" height="11" fill="#ff4000"/>
<rect x="578" y="121" width="1" height="20" fill="#32cd32"/>
<rect x="577" y="121" width="3" height="9" fill="#32cd32"/>
<rect x="582" y="130" width="1" height="32" fill="#32cd32"/>
<rect x="581" y="130" width="3" height="23" fill="#32cd32"/>
<rect x="586" y="135" width="1" height="19" fill="#ff0000"/>
<rect x="585" y="140" width="3" height="13" fill="#ff0000"/>
<rect x="586" y="141" width="1" height="11" fill="#ff4000"/>
<rect x="590" y="122" width="1" height="20" fill="#ff0000"/>
<rect x="589" y="136" width="3" height="5" fill="#ff0000"/>
<rect x="590" y="137" width="1" height="3" fill="#ff4000"/>
<rect x="594" y="124" width="1" height="14" fill="#ff0000"/>
<rect x="593" y="125" width="3" height="11" fill="#ff0000"/>
<rect x="594" y="126" width="1" height="9" fill="#ff4000"/>
<rect x="598" y="114" width="1" height="40" fill="#32cd32"/>
<rect x="597" y="125" width="3" height="25" fill="#32cd32"/>
<rect x="602" y="140" width="1" height="13" fill="#ff0000"/>
<rect x="601" y="146" width="3" height="5" fill="#ff0000"/>
<rect x="602" y="147" width="1" height="3" fill="#ff4000"/>
<rect x="606" y="146" width="1" height="18" fill="#32cd32"/>
<rect x="605" y="147" width="3" height="8" fill="#32cd32"/>
<rect x="610" y="140" width="1" height="19" fill="#ff0000"/>
<rect x="609" y="147" width="3" height="9" fill="#ff0000"/>
<rect x="610" y="148" width="1" height="7" fill="#ff4000"/>
<rect x="614" y="128" width="1" height="26" fill="#ff0000"/>
<rect x="613" y="133" width="3" height="17" fill="#ff0000"/>
<rect x="614" y="134" width="1" height="15" fill="#ff4000"/>
<rect x="618" y="121" width="1" height="18" fill="#ff0000"/>
<rect x="617" y="127" width="3" height="8" fill="#ff0000"/>
<rect x="618" y="128" width="1" height="6" fill="#ff4000"/>
<rect x="622" y="125" width="1" height="25" fill="#32cd32"/>
<rect x="621" y="127" width="3" height="17" fill="#32cd32"/>
<rect x="626" y="140" width="1" height="7" fill="#32cd32"/>
<rect x="625" y="141" width="3" height="4" fill="#32cd32"/>
<rect x="630" y="133" width="1" height="17" fill="#32cd32"/>
<rect x="629" y="146" width="3" height="3" fill="#32cd32"/>
<rect x="634" y="131" width="1" height="30" fill="#ff0000"/>
<rect x="633" y="133" width="3" height="16" fill="#ff0000"/>
<rect x="634" y="134" width="1" height="14" fill="#ff4000"/>
<rect x="638" y="127" width="1" height="42" fill="#32cd32"/>
<rect x="637" y="133" width="3" height="16" fill="#32cd32"/>
<rect x="642" y="148" width="1" height="39" fill="#32cd32"/>
<rect x="641" y="153" width="3" height="8" fill="#32cd32"/>
<rect x="646" y="146" width="1" height="25" fill="#ff0000"/>
<rect x="645" y="158" width="3" height="3" fill="#ff0000"/>
<rect x="646" y="159" width="1" height="1" fill="#ff4000"/>
<rect x="650" y="157" width="1" height="16" fill="#32cd32"/>
<rect x="649" y="158" width="3" height="13" fill="#32cd32"/>
<rect x="654" y="161" width="1" height="21" fill="#32cd32"/>
<rect x="653" y="173" width="3" height="4" fill="#32cd32"/>
<rect x="658" y="161" width="1" height="35" fill="#32cd32"/>
<rect x="657" y="176" width="3" height="14" fill="#32cd32"/>
<rect x="662" y="173" width="1" height="19" fill="#ff0000"/>
<rect x="661" y="178" width="3" height="13" fill="#ff0000"/>
<rect x="662" y="179" width="1" height="11" fill="#ff4000"/>
<rect x="666" y="166" width="1" height="22" fill="#32cd32"/>
<rect x="665" y="178" width="3" height="5" fill="#32cd32"/>
<rect x="670" y="162" width="1" height="27" fill="#ff0000"/>
<rect x="669" y="163" width="3" height="21" fill="#ff0000"/>
<rect x="670" y="164" width="1" height="19" fill="#ff4000"/>
<rect x="674" y="158" width="1" height="8" fill="#ff0000"/>
<rect x="673" y="159" width="3" height="6" fill="#ff0000"/>
<rect x="674" y="160" width="1" height="4" fill="#ff4000"/>
<rect x="678" y="144" width="1" height="21" fill="#ff0000"/>
<rect x="677" y="145" width="3" height="16" fill="#ff0000"/>
<rect x="678" y="146" width="1" height="14" fill="#ff4000"/>
<rect x="682" y="137" width="1" height="16" fill="#ff0000"/>
<rect x="681" y="140" width="3" height="7" fill="#ff0000"/>
<rect x="682" y="141" width="1" height="5" fill="#ff4000"/>
<rect x="686" y="130" width="1" height="17" fill="#ff0000"/>
<rect x="685" y="138" width="3" height="3" fill="#ff0000"/>
<rect x="686" y="139" width="1" height="1" fill="#ff4000"/>
<rect x="690" y="125" width="1" height="21" fill="#ff0000"/>
<rect x="689" y="129" width="3" height="11" fill="#ff0000"/>
<rect x="690" y="130" width="1" height="9" fill="#ff4000"/>
<rect x="694" y="128" width="1" height="17" fill="#32cd32"/>
<rect x="693" y="128" width="3" height="6" fill="#32cd32"/>
<rect x="698" y="128" width="1" height="7" fill="#ff0000"/>
<rect x="697" y="130" width="3" height="4" fill="#ff0000"/>
<rect x="698" y="131" width="1" height="2" fill="#ff4000"/>
<rect x="702" y="120" width="1" height="11" fill="#ff0000"/>
<rect x="701" y="121" width="3" height="9" fill="#ff0000"/>
<rect x="702" y="122" width="1" height="7" fill="#ff4000"/>
<rect x="706" y="114" width="1" height="21" fill="#32cd32"/>
<rect x="705" y="121" width="3" height="5" fill="#32cd32"/>
<rect x="710" y="122" width="1" height="20" fill="#32cd32"/>
<rect x="709" y="123" width="3" height="15" fill="#32cd32"/>
<rect x="714" y="119" width="1" height="22" fill="#ff0000"/>
<rect x="713" y="135" width="3" height="5" fill="#ff0000"/>
<rect x="714" y="136" width="1" height="3" fill="#ff4000"/>
<rect x="718" y="93" width="1" height="45" fill="#ff0000"/>
<rect x="717" y="95" width="3" height="42" fill="#ff0000"/>
<rect x="718" y="96" width="1" height="40" fill="#ff4000"/>
<rect x="722" y="90" width="1" height="8" fill="#ff0000"/>
<rect x="721" y="94" width="3" height="4" fill="#ff0000"/>
<rect x="722" y="95" width="1" height="2" fill="#ff4000"/>
<rect x="726" y="76" width="1" height="23" fill="#ff0000"/>
<rect x="725" y="81" width="3" height="13" fill="#ff0000"/>
<rect x="726" y="82" width="1" height="11" fill="#ff4000"/>
<rect x="730" y="71" width="1" height="20" fill="#ff0000"/>
<rect x="729" y="80" width="3" height="3" fill="#ff0000"/>
<rect x="730" y="81" width="1" height="1" fill="#ff4000"/>
<rect x="734" y="67" width="1" height="19" fill="#ff0000"/>
<rect x="733" y="76" width="3" height="5" fill="#ff0000"/>
<rect x="734" y="77" width="1" height="3" fill="#ff4000"/>
<rect x="738" y="46" width="1" height="32" fill="#ff0000"/>
<rect x="737" y="63" width="3" height="15" fill="#ff0000"/>
<rect x="738" y="64" width="1" height="13" fill="#ff4000"/>
<rect x="742" y="61" width="1" height="79" fill="#32cd32"/>
<rect x="741" y="62" width="3" height="74" fill="#32cd32"/>
<rect x="746" y="131" width="1" height="17" fill="#32cd32"/>
<rect x="745" y="134" width="3" height="13" fill="#32cd32"/>
<rect x="750" y="120" width="1" height="27" fill="#ff0000"/>
<rect x="749" y="121" width="3" height="23" fill="#ff0000"/>
<rect x="750" y="122" width="1" height="21" fill="#ff4000"/>
<rect x="754" y="110" width="1" height="28" fill="#ff0000"/>
<rect x="753" y="111" width="3" height="12" fill="#ff0000"/>
<rect x="754" y="112" width="1" height="10" fill="#ff4000"/>
<rect x="758" y="103" width="1" height="24" fill="#32cd32"/>
<rect x="757" y="111" width="3" height="6" fill="#32cd32"/>
<rect x="762" y="110" width="1" height="23" fill="#ff0000"/>
<rect x="761" y="116" width="3" height="1" fill="#ff0000"/>
<rect x="766" y="112" width="1" height="65" fill="#32cd32"/>
<rect x="765" y="116" width="3" height="47" fill="#32cd32"/>
<rect x="770" y="151" width="1" height="15" fill="#ff0000"/>
<rect x="769" y="152" width="3" height="11" fill="#ff0000"/>
<rect x="770" y="153" width="1" height="9" fill="#ff4000"/>
<rect x="774" y="141" width="1" height="30" fill="#32cd32"/>
<rect x="773" y="150" width="3" height="11" fill="#32cd32"/>
<rect x="778" y="142" width="1" height="35" fill="#ff0000"/>
<rect x="777" y="150" width="3" height="12" fill="#ff0000"/>
<rect x="778" y="151" width="1" height="10" fill="#ff4000"/>
<rect x="782" y="134" width="1" height="26" fill="#ff0000"/>
<rect x="781" y="145" width="3" height="6" fill="#ff0000"/>
<rect x="782" y="146" width="1" height="4" fill="#ff4000"/>
<rect x="786" y="125" width="1" height="23" fill="#ff0000"/>
<rect x="785" y="126" width="3" height="21" fill="#ff0000"/>
<rect x="786" y="127" width="1" height="19" fill="#ff4000"/>
<rect x="790" y="115" width="1" height="27" fill="#32cd32"/>
<rect x="789" y="127" width="3" height="8" fill="#32cd32"/>
<rect x="794" y="124" width="1" height="12" fill="#ff0000"/>
<rect x="793" y="130" width="3" height="5" fill="#ff0000"/>
<rect x="794" y="131" width="1" height="3" fill="#ff4000"/>
<rect x="798" y="125" width="1" height="23" fill="#32cd32"/>
<rect x="797" y="132" width="3" height="8" fill="#32cd32"/>
<rect x="802" y="130" width="1" height="16" fill="#ff0000"/>
<rect x="801" y="134" width="3" height="6" fill="#ff0000"/>
<rect x="802" y="135" width="1" height="4" fill="#ff4000"/>
<rect x="806" y="130" width="1" height="13" fill="#32cd32"/>
<rect x="805" y="134" width="3" height="8" fill="#32cd32"/>
<rect x="810" y="99" width="1" height="51" fill="#ff0000"/>
<rect x="809" y="118" width="3" height="31" fill="#ff0000"/>
<rect x="810" y="119" width="1" height="29" fill="#ff4000"/>
<rect x="814" y="114" width="1" height="30" fill="#32cd32"/>
<rect x="813" y="118" width="3" height="17" fill="#32cd32"/>
<rect x="818" y="130" width="1" height="6" fill="#ff0000"/>
<rect x="817" y="132" width="3" height="3" fill="#ff0000"/>
<rect x="818" y="133" width="1" height="1" fill="#ff4000"/>
<rect x="822" y="130" width="1" height="18" fill="#ff0000"/>
<rect x="821" y="132" width="3" height="8" fill="#ff0000"/>
<rect x="822" y="133" width="1" height="6" fill="#ff4000"/>
<rect x="826" y="130" width="1" height="35" fill="#32cd32"/>
<rect x="825" y="132" width="3" height="24" fill="#32cd32"/>
<rect x="830" y="154" width="1" height="36" fill="#32cd32"/>
<rect x="829" y="154" width="3" height="23" fill="#32cd32"/>
<rect x="834" y="174" width="1" height="21" fill="#32cd32"/>
<rect x="833" y="175" width="3" height="19" fill="#32cd32"/>
<rect x="838" y="169" width="1" height="25" fill="#ff0000"/>
<rect x="837" y="172" width="3" height="22" fill="#ff0000"/>
<rect x="838" y="173" width="1" height="20" fill="#ff4000"/>
<rect x="842" y="171" width="1" height="8" fill="#32cd32"/>
<rect x="841" y="173" width="3" height="4" fill="#32cd32"/>
<rect x="846" y="163" width="1" height="15" fill="#ff0000"/>
<rect x="845" y="168" width="3" height="3" fill="#ff0000"/>
<rect x="846" y="169" width="1" height="1" fill="#ff4000"/>
<rect x="850" y="161" width="1" height="24" fill="#32cd32"/>
<rect x="849" y="168" width="3" height="14" fill="#32cd32"/>
<rect x="854" y="170" width="1" height="19" fill="#ff0000"/>
<rect x="853" y="178" width="3" height="4" fill="#ff0000"/>
<rect x="854" y="179" width="1" height="2" fill="#ff4000"/>
<rect x="858" y="175" width="1" height="31" fill="#32cd32"/>
<rect x="857" y="178" width="3" height="5" fill="#32cd32"/>
<rect x="862" y="175" width="1" height="8" fill="#ff0000"/>
<rect x="861" y="177" width="3" height="6" fill="#ff0000"/>
<rect x="862" y="178" width="1" height="4" fill="#ff4000"/>
<rect x="866" y="181" width="1" height="4" fill="#32cd32"/>
<rect x="865" y="182" width="3" height="2" fill="#32cd32"/>
<rect x="870" y="162" width="1" height="23" fill="#ff0000"/>
<rect x="869" y="163" width="3" height="17" fill="#ff0000"/>
<rect x="870" y="164" width="1" height="15" fill="#ff4000"/>
<rect x="874" y="161" width="1" height="20" fill="#ff0000"/>
<rect x="873" y="162" width="3" height="9" fill="#ff0000"/>
<rect x="874" y="163" width="1" height="7" fill="#ff4000"/>
<rect x="878" y="156" width="1" height="24" fill="#32cd32"/>
<rect x="877" y="162" width="3" height="13" fill="#32cd32"/>
<rect x="882" y="165" width="1" height="18" fill="#ff0000"/>
<rect x="881" y="169" width="3" height="6" fill="#ff0000"/>
<rect x="882" y="170" width="1" height="4" fill="#ff4000"/>
<rect x="886" y="162" width="1" height="25" fill="#32cd32"/>
<rect x="885" y="169" width="3" height="5" fill="#32cd32"/>
<rect x="890" y="172" width="1" height="3" fill="#32cd32"/>
<rect x="889" y="173" width="3" height="2" fill="#32cd32"/>
<rect x="894" y="170" width="1" height="16" fill="#32cd32"/>
<rect x="893" y="174" width="3" height="4" fill="#32cd32"/>
<rect x="898" y="172" width="1" height="16" fill="#ff0000"/>
<rect x="897" y="174" width="3" height="4" fill="#ff0000"/>
<rect x="898" y="175" width="1" height="2" fill="#ff4000"/>
<rect x="902" y="137" width="1" height="38" fill="#ff0000"/>
<rect x="901" y="139" width="3" height="36" fill="#ff0000"/>
<rect x="902" y="140" width="1" height="34" fill="#ff4000"/>
<rect x="906" y="127" width="1" height="21" fill="#ff0000"/>
<rect x="905" y="134" width="3" height="7" fill="#ff0000"/>
<rect x="906" y="135" width="1" height="5" fill="#ff4000"/>
<rect x="910" y="129" width="1" height="13" fill="#32cd32"/>
<rect x="909" y="134" width="3" height="6" fill="#32cd32"/>
<rect x="914" y="136" width="1" height="4" fill="#32cd32"/>
<rect x="913" y="138" width="3" height="2" fill="#32cd32"/>
<rect x="918" y="121" width="1" height="27" fill="#ff0000"/>
<rect x="917" y="129" width="3" height="13" fill="#ff0000"/>
<rect x="918" y="130" width="1" height="11" fill="#ff4000"/>
<rect x="922" y="110" width="1" height="31" fill="#32cd32"/>
<rect x="921" y="129" width="3" height="8" fill="#32cd32"/>
<rect x="926" y="133" width="1" height="14" fill="#32cd32"/>
<rect x="925" y="135" width="3" height="6" fill="#32cd32"/>
</g>
<rect x="1162" y="62" width="6" height="6" fill="#ff0000"/>
<rect x="1164" y="64" width="2" height="2" fill="#ffffff"/>
<rect x="1162" y="104" width="6" height="6" fill="#ff0000"/>
<rect x="1164" y="106" width="2" height="2" fill="#ffffff"/>
<rect x="1162" y="151" width="6" height="6" fill="#00ff00"/>
<rect x="1164" y="153" width="2" height="2" fill="#ffffff"/>
<rect x="5" y="151" width="6" height="6" fill="#00ff00"/>
<rect x="7" y="153" width="2" height="2" fill="#ffffff"/>
<rect x="5" y="62" width="2" height="6" fill="#ff0000"/>
<rect x="5" y="104" width="2" height="6" fill="#ff0000"/>
<rect x="1168" y="153" width="1" height="2" fill="#00ff00"/>
<rect x="1168" y="64" width="1" height="2" fill="#ff0000"/>
<rect x="1168" y="106" width="1" height="2" fill="#ff0000"/>
<text x="1174" y="64" font-size="9.3" fill="#000" textLength="33" lengthAdjust="spacingAndGlyphs">0.79640</text>
<rect x="1169" y="94" width="3" height="1" fill="#000"/>
<text x="1174" y="98" font-size="9.3" fill="#000" textLength="33" lengthAdjust="spacingAndGlyphs">0.78640</text>
<rect x="1169" y="127" width="3" height="1" fill="#000"/>
<text x="1174" y="131" font-size="9.3" fill="#000" textLength="33" lengthAdjust="spacingAndGlyphs">0.77640</text>
<rect x="1169" y="160" width="3" height="1" fill="#000"/>
<text x="1174" y="164" font-size="9.3" fill="#000" textLength="33" lengthAdjust="spacingAndGlyphs">0.76640</text>
<rect x="1169" y="226" width="3" height="1" fill="#000"/>
<text x="1174" y="230" font-size="9.3" fill="#000" textLength="33" lengthAdjust="spacingAndGlyphs">0.74665</text>
<rect x="1169" y="259" width="3" height="1" fill="#000"/>
<text x="1174" y="263" font-size="9.3" fill="#000" textLength="33" lengthAdjust="spacingAndGlyphs">0.73665</text>
<rect x="1169" y="292" width="3" height="1" fill="#000"/>
<text x="1174" y="296" font-size="9.3" fill="#000" textLength="33" lengthAdjust="spacingAndGlyphs">0.72690</text>
<rect x="1169" y="325" width="3" height="1" fill="#000"/>
<text x="1174" y="329" font-size="9.3" fill="#000" textLength="33" lengthAdjust="spacingAndGlyphs">0.71690</text>
<rect x="1169" y="358" width="3" height="1" fill="#000"/>
<text x="1174" y="362" font-size="9.3" fill="#000" textLength="33" lengthAdjust="spacingAndGlyphs">0.70715</text>
<rect x="1169" y="391" width="3" height="1" fill="#000"/>
<text x="1174" y="395" font-size="9.3" fill="#000" textLength="33" lengthAdjust="spacingAndGlyphs">0.69715</text>
<rect x="1169" y="61" width="3" height="1" fill="#000"/>
<rect x="1169" y="194" width="3" height="1" fill="#000"/>
<rect x="1170" y="59" width="41" height="11" fill="#ff0000"/>
<text x="1174" y="68" font-size="9.3" fill="#fff" textLength="33" lengthAdjust="spacingAndGlyphs">0.79492</text>
<rect x="1170" y="101" width="41" height="11" fill="#ff0000"/>
<text x="1174" y="110" font-size="9.3" fill="#fff" textLength="33" lengthAdjust="spacingAndGlyphs">0.78234</text>
<rect x="1170" y="135" width="41" height="11" fill="#000000"/>
<text x="1174" y="144" font-size="9.3" fill="#fff" textLength="33" lengthAdjust="spacingAndGlyphs">0.77246</text>
<rect x="1170" y="148" width="41" height="11" fill="#00ff00"/>
<text x="1174" y="157" font-size="9.3" fill="#fff" textLength="33" lengthAdjust="spacingAndGlyphs">0.76827</text>
<rect x="1170" y="189" width="41" height="11" fill="#0000ff"/>
<text x="1174" y="198" font-size="9.3" fill="#fff" textLength="33" lengthAdjust="spacingAndGlyphs">0.75599</text>
<rect x="1170" y="242" width="41" height="11" fill="#0000ff"/>
<text x="1174" y="251" font-size="9.3" fill="#fff" textLength="33" lengthAdjust="spacingAndGlyphs">0.74012</text>
<path d="M9,39.5 L16.5,39.5 L12.75,35 Z" fill="#000" shape-rendering="geometricPrecision"/>
<text x="22" y="40" font-size="10.5" fill="#000" textLength="65" lengthAdjust="spacingAndGlyphs">AUDUSD,Daily</text>
<text x="93" y="40" font-size="10.5" fill="#000" textLength="141" lengthAdjust="spacingAndGlyphs">0.77397 0.77456 0.77081 0.77246</text>
<g clip-path="url(#cd)">
<rect x="5" y="410" width="3" height="27" fill="#c0c0c0"/>
<rect x="9" y="410" width="3" height="27" fill="#c0c0c0"/>
<rect x="13" y="409" width="3" height="28" fill="#c0c0c0"/>
<rect x="17" y="410" width="3" height="27" fill="#c0c0c0"/>
<rect x="21" y="410" width="3" height="27" fill="#c0c0c0"/>
<rect x="25" y="410" width="3" height="27" fill="#c0c0c0"/>
<rect x="29" y="410" width="3" height="27" fill="#c0c0c0"/>
<rect x="33" y="410" width="3" height="27" fill="#c0c0c0"/>
<rect x="37" y="410" width="3" height="27" fill="#c0c0c0"/>
<rect x="41" y="412" width="3" height="25" fill="#c0c0c0"/>
<rect x="45" y="411" width="3" height="26" fill="#c0c0c0"/>
<rect x="49" y="409" width="3" height="28" fill="#c0c0c0"/>
<rect x="53" y="411" width="3" height="26" fill="#c0c0c0"/>
<rect x="57" y="413" width="3" height="24" fill="#c0c0c0"/>
<rect x="61" y="414" width="3" height="23" fill="#c0c0c0"/>
<rect x="65" y="416" width="3" height="21" fill="#c0c0c0"/>
<rect x="69" y="417" width="3" height="20" fill="#c0c0c0"/>
<rect x="73" y="418" width="3" height="19" fill="#c0c0c0"/>
<rect x="77" y="419" width="3" height="18" fill="#c0c0c0"/>
<rect x="81" y="420" width="3" height="17" fill="#c0c0c0"/>
<rect x="85" y="419" width="3" height="18" fill="#c0c0c0"/>
<rect x="89" y="418" width="3" height="19" fill="#c0c0c0"/>
<rect x="93" y="418" width="3" height="19" fill="#c0c0c0"/>
<rect x="97" y="418" width="3" height="19" fill="#c0c0c0"/>
<rect x="101" y="422" width="3" height="15" fill="#c0c0c0"/>
<rect x="105" y="424" width="3" height="13" fill="#c0c0c0"/>
<rect x="109" y="425" width="3" height="12" fill="#c0c0c0"/>
<rect x="113" y="426" width="3" height="11" fill="#c0c0c0"/>
<rect x="117" y="425" width="3" height="12" fill="#c0c0c0"/>
<rect x="121" y="422" width="3" height="15" fill="#c0c0c0"/>
<rect x="125" y="419" width="3" height="18" fill="#c0c0c0"/>
<rect x="129" y="415" width="3" height="22" fill="#c0c0c0"/>
<rect x="133" y="411" width="3" height="26" fill="#c0c0c0"/>
<rect x="137" y="409" width="3" height="28" fill="#c0c0c0"/>
<rect x="141" y="410" width="3" height="27" fill="#c0c0c0"/>
<rect x="145" y="413" width="3" height="24" fill="#c0c0c0"/>
<rect x="149" y="415" width="3" height="22" fill="#c0c0c0"/>
<rect x="153" y="417" width="3" height="20" fill="#c0c0c0"/>
<rect x="157" y="418" width="3" height="19" fill="#c0c0c0"/>
<rect x="161" y="421" width="3" height="16" fill="#c0c0c0"/>
<rect x="165" y="422" width="3" height="15" fill="#c0c0c0"/>
<rect x="169" y="423" width="3" height="14" fill="#c0c0c0"/>
<rect x="173" y="424" width="3" height="13" fill="#c0c0c0"/>
<rect x="177" y="425" width="3" height="12" fill="#c0c0c0"/>
<rect x="181" y="425" width="3" height="12" fill="#c0c0c0"/>
<rect x="185" y="425" width="3" height="12" fill="#c0c0c0"/>
<rect x="189" y="425" width="3" height="12" fill="#c0c0c0"/>
<rect x="193" y="425" width="3" height="12" fill="#c0c0c0"/>
<rect x="197" y="425" width="3" height="12" fill="#c0c0c0"/>
<rect x="201" y="425" width="3" height="12" fill="#c0c0c0"/>
<rect x="205" y="430" width="3" height="7" fill="#c0c0c0"/>
<rect x="209" y="434" width="3" height="3" fill="#c0c0c0"/>
<rect x="213" y="437" width="3" height="6" fill="#c0c0c0"/>
<rect x="217" y="437" width="3" height="12" fill="#c0c0c0"/>
<rect x="221" y="437" width="3" height="18" fill="#c0c0c0"/>
<rect x="225" y="437" width="3" height="22" fill="#c0c0c0"/>
<rect x="229" y="437" width="3" height="24" fill="#c0c0c0"/>
<rect x="233" y="437" width="3" height="23" fill="#c0c0c0"/>
<rect x="237" y="437" width="3" height="20" fill="#c0c0c0"/>
<rect x="241" y="437" width="3" height="18" fill="#c0c0c0"/>
<rect x="245" y="437" width="3" height="16" fill="#c0c0c0"/>
<rect x="249" y="437" width="3" height="16" fill="#c0c0c0"/>
<rect x="253" y="437" width="3" height="14" fill="#c0c0c0"/>
<rect x="257" y="437" width="3" height="12" fill="#c0c0c0"/>
<rect x="261" y="437" width="3" height="12" fill="#c0c0c0"/>
<rect x="265" y="437" width="3" height="10" fill="#c0c0c0"/>
<rect x="269" y="437" width="3" height="8" fill="#c0c0c0"/>
<rect x="273" y="437" width="3" height="5" fill="#c0c0c0"/>
<rect x="277" y="437" width="3" height="4" fill="#c0c0c0"/>
<rect x="281" y="437" width="3" height="3" fill="#c0c0c0"/>
<rect x="285" y="437" width="3" height="4" fill="#c0c0c0"/>
<rect x="289" y="437" width="3" height="7" fill="#c0c0c0"/>
<rect x="293" y="437" width="3" height="10" fill="#c0c0c0"/>
<rect x="297" y="437" width="3" height="12" fill="#c0c0c0"/>
<rect x="301" y="437" width="3" height="12" fill="#c0c0c0"/>
<rect x="305" y="437" width="3" height="14" fill="#c0c0c0"/>
<rect x="309" y="437" width="3" height="14" fill="#c0c0c0"/>
<rect x="313" y="437" width="3" height="12" fill="#c0c0c0"/>
<rect x="317" y="437" width="3" height="12" fill="#c0c0c0"/>
<rect x="321" y="437" width="3" height="10" fill="#c0c0c0"/>
<rect x="325" y="437" width="3" height="10" fill="#c0c0c0"/>
<rect x="329" y="437" width="3" height="9" fill="#c0c0c0"/>
<rect x="333" y="437" width="3" height="10" fill="#c0c0c0"/>
<rect x="337" y="437" width="3" height="14" fill="#c0c0c0"/>
<rect x="341" y="437" width="3" height="16" fill="#c0c0c0"/>
<rect x="345" y="437" width="3" height="16" fill="#c0c0c0"/>
<rect x="349" y="437" width="3" height="16" fill="#c0c0c0"/>
<rect x="353" y="437" width="3" height="14" fill="#c0c0c0"/>
<rect x="357" y="437" width="3" height="9" fill="#c0c0c0"/>
<rect x="361" y="437" width="3" height="3" fill="#c0c0c0"/>
<rect x="365" y="432" width="3" height="5" fill="#c0c0c0"/>
<rect x="369" y="428" width="3" height="9" fill="#c0c0c0"/>
<rect x="373" y="424" width="3" height="13" fill="#c0c0c0"/>
<rect x="377" y="422" width="3" height="15" fill="#c0c0c0"/>
<rect x="381" y="421" width="3" height="16" fill="#c0c0c0"/>
<rect x="385" y="420" width="3" height="17" fill="#c0c0c0"/>
<rect x="389" y="420" width="3" height="17" fill="#c0c0c0"/>
<rect x="393" y="420" width="3" height="17" fill="#c0c0c0"/>
<rect x="397" y="418" width="3" height="19" fill="#c0c0c0"/>
<rect x="401" y="417" width="3" height="20" fill="#c0c0c0"/>
<rect x="405" y="416" width="3" height="21" fill="#c0c0c0"/>
<rect x="409" y="417" width="3" height="20" fill="#c0c0c0"/>
<rect x="413" y="417" width="3" height="20" fill="#c0c0c0"/>
<rect x="417" y="417" width="3" height="20" fill="#c0c0c0"/>
<rect x="421" y="418" width="3" height="19" fill="#c0c0c0"/>
<rect x="425" y="417" width="3" height="20" fill="#c0c0c0"/>
<rect x="429" y="417" width="3" height="20" fill="#c0c0c0"/>
<rect x="433" y="416" width="3" height="21" fill="#c0c0c0"/>
<rect x="437" y="415" width="3" height="22" fill="#c0c0c0"/>
<rect x="441" y="414" width="3" height="23" fill="#c0c0c0"/>
<rect x="445" y="414" width="3" height="23" fill="#c0c0c0"/>
<rect x="449" y="415" width="3" height="22" fill="#c0c0c0"/>
<rect x="453" y="415" width="3" height="22" fill="#c0c0c0"/>
<rect x="457" y="414" width="3" height="23" fill="#c0c0c0"/>
<rect x="461" y="413" width="3" height="24" fill="#c0c0c0"/>
<rect x="465" y="412" width="3" height="25" fill="#c0c0c0"/>
<rect x="469" y="412" width="3" height="25" fill="#c0c0c0"/>
<rect x="473" y="413" width="3" height="24" fill="#c0c0c0"/>
<rect x="477" y="413" width="3" height="24" fill="#c0c0c0"/>
<rect x="481" y="410" width="3" height="27" fill="#c0c0c0"/>
<rect x="485" y="408" width="3" height="29" fill="#c0c0c0"/>
<rect x="489" y="407" width="3" height="30" fill="#c0c0c0"/>
<rect x="493" y="406" width="3" height="31" fill="#c0c0c0"/>
<rect x="497" y="406" width="3" height="31" fill="#c0c0c0"/>
<rect x="501" y="406" width="3" height="31" fill="#c0c0c0"/>
<rect x="505" y="404" width="3" height="33" fill="#c0c0c0"/>
<rect x="509" y="402" width="3" height="35" fill="#c0c0c0"/>
<rect x="513" y="401" width="3" height="36" fill="#c0c0c0"/>
<rect x="517" y="403" width="3" height="34" fill="#c0c0c0"/>
<rect x="521" y="407" width="3" height="30" fill="#c0c0c0"/>
<rect x="525" y="408" width="3" height="29" fill="#c0c0c0"/>
<rect x="529" y="408" width="3" height="29" fill="#c0c0c0"/>
<rect x="533" y="409" width="3" height="28" fill="#c0c0c0"/>
<rect x="537" y="410" width="3" height="27" fill="#c0c0c0"/>
<rect x="541" y="411" width="3" height="26" fill="#c0c0c0"/>
<rect x="545" y="408" width="3" height="29" fill="#c0c0c0"/>
<rect x="549" y="406" width="3" height="31" fill="#c0c0c0"/>
<rect x="553" y="405" width="3" height="32" fill="#c0c0c0"/>
<rect x="557" y="405" width="3" height="32" fill="#c0c0c0"/>
<rect x="561" y="404" width="3" height="33" fill="#c0c0c0"/>
<rect x="565" y="402" width="3" height="35" fill="#c0c0c0"/>
<rect x="569" y="402" width="3" height="35" fill="#c0c0c0"/>
<rect x="573" y="400" width="3" height="37" fill="#c0c0c0"/>
<rect x="577" y="401" width="3" height="36" fill="#c0c0c0"/>
<rect x="581" y="404" width="3" height="33" fill="#c0c0c0"/>
<rect x="585" y="406" width="3" height="31" fill="#c0c0c0"/>
<rect x="589" y="407" width="3" height="30" fill="#c0c0c0"/>
<rect x="593" y="407" width="3" height="30" fill="#c0c0c0"/>
<rect x="597" y="410" width="3" height="27" fill="#c0c0c0"/>
<rect x="601" y="412" width="3" height="25" fill="#c0c0c0"/>
<rect x="605" y="415" width="3" height="22" fill="#c0c0c0"/>
<rect x="609" y="417" width="3" height="20" fill="#c0c0c0"/>
<rect x="613" y="417" width="3" height="20" fill="#c0c0c0"/>
<rect x="617" y="417" width="3" height="20" fill="#c0c0c0"/>
<rect x="621" y="418" width="3" height="19" fill="#c0c0c0"/>
<rect x="625" y="420" width="3" height="17" fill="#c0c0c0"/>
<rect x="629" y="422" width="3" height="15" fill="#c0c0c0"/>
<rect x="633" y="422" width="3" height="15" fill="#c0c0c0"/>
<rect x="637" y="424" width="3" height="13" fill="#c0c0c0"/>
<rect x="641" y="427" width="3" height="10" fill="#c0c0c0"/>
<rect x="645" y="429" width="3" height="8" fill="#c0c0c0"/>
<rect x="649" y="432" width="3" height="5" fill="#c0c0c0"/>
<rect x="653" y="435" width="3" height="2" fill="#c0c0c0"/>
<rect x="657" y="437" width="3" height="4" fill="#c0c0c0"/>
<rect x="661" y="437" width="3" height="6" fill="#c0c0c0"/>
<rect x="665" y="437" width="3" height="8" fill="#c0c0c0"/>
<rect x="669" y="437" width="3" height="7" fill="#c0c0c0"/>
<rect x="673" y="437" width="3" height="6" fill="#c0c0c0"/>
<rect x="677" y="437" width="3" height="3" fill="#c0c0c0"/>
<rect x="681" y="437" width="3" height="1" fill="#c0c0c0"/>
<rect x="685" y="434" width="3" height="3" fill="#c0c0c0"/>
<rect x="689" y="432" width="3" height="5" fill="#c0c0c0"/>
<rect x="693" y="430" width="3" height="7" fill="#c0c0c0"/>
<rect x="697" y="429" width="3" height="8" fill="#c0c0c0"/>
<rect x="701" y="427" width="3" height="10" fill="#c0c0c0"/>
<rect x="705" y="425" width="3" height="12" fill="#c0c0c0"/>
<rect x="709" y="426" width="3" height="11" fill="#c0c0c0"/>
<rect x="713" y="427" width="3" height="10" fill="#c0c0c0"/>
<rect x="717" y="423" width="3" height="14" fill="#c0c0c0"/>
<rect x="721" y="420" width="3" height="17" fill="#c0c0c0"/>
<rect x="725" y="416" width="3" height="21" fill="#c0c0c0"/>
<rect x="729" y="414" width="3" height="23" fill="#c0c0c0"/>
<rect x="733" y="411" width="3" height="26" fill="#c0c0c0"/>
<rect x="737" y="409" width="3" height="28" fill="#c0c0c0"/>
<rect x="741" y="414" width="3" height="23" fill="#c0c0c0"/>
<rect x="745" y="420" width="3" height="17" fill="#c0c0c0"/>
<rect x="749" y="423" width="3" height="14" fill="#c0c0c0"/>
<rect x="753" y="423" width="3" height="14" fill="#c0c0c0"/>
<rect x="757" y="425" width="3" height="12" fill="#c0c0c0"/>
<rect x="761" y="426" width="3" height="11" fill="#c0c0c0"/>
<rect x="765" y="432" width="3" height="5" fill="#c0c0c0"/>
<rect x="769" y="436" width="3" height="1" fill="#c0c0c0"/>
<rect x="773" y="437" width="3" height="4" fill="#c0c0c0"/>
<rect x="777" y="437" width="3" height="6" fill="#c0c0c0"/>
<rect x="781" y="437" width="3" height="7" fill="#c0c0c0"/>
<rect x="785" y="437" width="3" height="6" fill="#c0c0c0"/>
<rect x="789" y="437" width="3" height="5" fill="#c0c0c0"/>
<rect x="793" y="437" width="3" height="4" fill="#c0c0c0"/>
<rect x="797" y="437" width="3" height="5" fill="#c0c0c0"/>
<rect x="801" y="437" width="3" height="5" fill="#c0c0c0"/>
<rect x="805" y="437" width="3" height="4" fill="#c0c0c0"/>
<rect x="809" y="437" width="3" height="4" fill="#c0c0c0"/>
<rect x="813" y="437" width="3" height="4" fill="#c0c0c0"/>
<rect x="817" y="437" width="3" height="4" fill="#c0c0c0"/>
<rect x="821" y="437" width="3" height="3" fill="#c0c0c0"/>
<rect x="825" y="437" width="3" height="5" fill="#c0c0c0"/>
<rect x="829" y="437" width="3" height="9" fill="#c0c0c0"/>
<rect x="833" y="437" width="3" height="14" fill="#c0c0c0"/>
<rect x="837" y="437" width="3" height="16" fill="#c0c0c0"/>
<rect x="841" y="437" width="3" height="16" fill="#c0c0c0"/>
<rect x="845" y="437" width="3" height="16" fill="#c0c0c0"/>
<rect x="849" y="437" width="3" height="18" fill="#c0c0c0"/>
<rect x="853" y="437" width="3" height="18" fill="#c0c0c0"/>
<rect x="857" y="437" width="3" height="19" fill="#c0c0c0"/>
<rect x="861" y="437" width="3" height="18" fill="#c0c0c0"/>
<rect x="865" y="437" width="3" height="18" fill="#c0c0c0"/>
<rect x="869" y="437" width="3" height="16" fill="#c0c0c0"/>
<rect x="873" y="437" width="3" height="14" fill="#c0c0c0"/>
<rect x="877" y="437" width="3" height="14" fill="#c0c0c0"/>
<rect x="881" y="437" width="3" height="14" fill="#c0c0c0"/>
<rect x="885" y="437" width="3" height="14" fill="#c0c0c0"/>
<rect x="889" y="437" width="3" height="12" fill="#c0c0c0"/>
<rect x="893" y="437" width="3" height="12" fill="#c0c0c0"/>
<rect x="897" y="437" width="3" height="12" fill="#c0c0c0"/>
<rect x="901" y="437" width="3" height="9" fill="#c0c0c0"/>
<rect x="905" y="437" width="3" height="4" fill="#c0c0c0"/>
<rect x="909" y="437" width="3" height="1" fill="#c0c0c0"/>
<rect x="913" y="436" width="3" height="1" fill="#c0c0c0"/>
<rect x="917" y="434" width="3" height="3" fill="#c0c0c0"/>
<rect x="921" y="432" width="3" height="5" fill="#c0c0c0"/>
<rect x="925" y="431" width="3" height="6" fill="#c0c0c0"/>
<polyline points="6.0,415.8 15.9,413.8 27.7,409.9 39.6,409.5 51.5,409.9 63.4,412.3 79.3,414.8 99.1,418.8 118.9,421.8 130.8,421.8 142.7,417.4 158.5,414.4 170.4,415.8 182.3,420.8 198.2,425.3 210.0,428.7 222.0,437.6 231.9,445.5 240.0,449.5 251.9,455.5 263.8,452.5 275.7,447.5 287.6,443.2 303.4,442.6 319.3,446.5 335.1,447.5 351.0,448.5 360.9,447.5 370.8,443.6 382.7,434.6 394.6,424.7 408.4,419.4 428.3,417.4 448.1,415.8 464.0,414.2 480.0,413.4 495.9,410.3 511.7,405.5 523.6,404.9 535.5,405.9 549.4,408.3 563.2,407.3 579.1,403.9 591.0,403.5 600.9,404.9 614.8,410.9 630.6,415.8 648.5,422.8 662.3,429.7 674.2,436.6 684.1,439.2 694.0,437.6 707.9,431.7 720.0,427.5 731.9,423.7 741.8,417.8 759.6,417.4 767.6,420.8 779.5,430.7 789.4,435.6 803.2,440.0 819.1,440.6 827.0,439.2 838.9,442.0 850.8,446.5 864.7,453.1 878.5,453.5 894.4,451.1 910.2,445.5 926.1,438.0" fill="none" stroke="#ff0000" stroke-width="1"/>
</g>
<text x="10" y="409" font-size="10" fill="#000" textLength="150" lengthAdjust="spacingAndGlyphs">MACD(12,26,9) 0.001543 -0.000165</text>
<rect x="1169" y="398" width="2" height="1" fill="#000"/>
<text x="1172" y="407" font-size="9.3" fill="#000" textLength="32" lengthAdjust="spacingAndGlyphs">0.00884</text>
<rect x="1169" y="436" width="2" height="1" fill="#000"/>
<text x="1172" y="441" font-size="9.3" fill="#000" textLength="18" lengthAdjust="spacingAndGlyphs">0.00</text>
<rect x="1169" y="462" width="2" height="1" fill="#000"/>
<text x="1172" y="460" font-size="9.3" fill="#000" textLength="42" lengthAdjust="spacingAndGlyphs">-0.005651</text>
<line x1="6" y1="487.5" x2="1168" y2="487.5" stroke="#c0c0c0" stroke-width="1" stroke-dasharray="3,3"/>
<line x1="6" y1="513.5" x2="1168" y2="513.5" stroke="#c0c0c0" stroke-width="1" stroke-dasharray="3,3"/>
<g clip-path="url(#cr)">
<polyline points="5.9,489.4 9.9,489.0 17.8,485.4 21.8,485.2 26.8,489.4 29.7,487.8 33.7,488.4 38.6,494.1 43.6,490.8 49.5,486.4 54.5,494.3 59.5,495.3 65.4,494.7 69.4,495.3 79.3,494.3 85.2,491.3 93.1,488.2 99.1,496.7 103.1,499.3 114.9,495.7 122.9,488.8 128.8,483.8 136.7,482.8 142.7,488.8 148.6,496.7 155.6,494.7 162.5,500.7 168.4,496.3 178.4,497.3 184.3,495.3 188.3,496.1 191.2,492.3 195.2,497.3 198.2,495.3 204.1,497.7 208.1,504.6 216.0,511.6 223.0,515.1 227.9,512.6 240.0,500.7 246.9,503.2 253.9,500.3 261.8,503.2 266.8,500.7 270.7,496.1 275.7,496.1 282.6,501.3 286.6,501.7 290.5,507.2 295.5,507.2 303.4,506.2 306.4,508.6 310.4,502.2 314.3,503.2 321.3,501.3 326.2,502.0 330.2,500.3 334.1,505.6 339.1,510.0 345.0,507.6 350.0,506.0 354.9,496.3 358.9,495.7 362.9,490.4 369.8,491.3 374.8,489.4 378.7,492.3 386.6,492.3 391.6,494.3 398.5,489.4 402.5,490.8 406.5,490.4 410.4,495.7 414.4,493.3 419.4,493.3 422.3,495.7 427.3,491.7 434.2,491.3 438.2,489.4 442.1,489.4 449.1,493.3 454.0,491.3 458.0,487.4 462.9,489.4 469.9,488.4 474.8,492.3 480.0,487.8 484.0,485.2 497.8,485.2 506.8,481.4 514.7,482.4 517.7,489.4 522.0,495.3 529.5,489.4 538.5,493.3 549.4,484.4 558.3,488.4 566.2,484.4 571.2,487.4 574.1,485.4 582.1,494.1 586.0,492.3 594.0,490.4 597.9,496.1 602.9,496.3 606.8,498.3 617.7,492.3 622.7,496.3 629.6,498.3 634.6,495.3 638.5,500.3 646.5,501.3 652.4,504.2 658.4,508.2 662.3,505.2 666.3,506.2 671.2,500.3 680.2,495.3 690.1,492.3 698.0,493.3 703.9,490.8 710.9,497.3 713.8,496.3 717.8,487.8 720.0,488.3 727.9,485.8 734.9,484.8 738.2,483.2 742.2,501.7 745.8,504.2 751.7,498.7 755.7,498.3 762.6,499.3 766.6,506.2 773.5,506.2 781.4,503.2 787.4,499.3 795.3,500.3 798.3,502.2 802.2,500.3 806.2,503.2 810.2,497.3 815.1,500.3 822.1,500.3 829.0,506.2 834.5,510.2 838.9,506.2 845.8,504.6 851.8,506.2 859.7,506.2 866.6,506.2 871.6,501.3 876.6,501.7 878.5,504.2 882.5,502.0 890.4,504.2 897.4,503.2 902.3,494.3 905.3,493.3 911.2,494.3 918.2,492.3 926.1,495.3" fill="none" stroke="#1e90ff" stroke-width="1"/>
</g>
<text x="10" y="478" font-size="10" fill="#000" textLength="68" lengthAdjust="spacingAndGlyphs">RSI(14) 55.7938</text>
<rect x="1169" y="467" width="2" height="1" fill="#000"/>
<text x="1172" y="476" font-size="9.3" fill="#000" textLength="15" lengthAdjust="spacingAndGlyphs">100</text>
<text x="1171" y="491" font-size="9.3" fill="#000" textLength="10" lengthAdjust="spacingAndGlyphs">70</text>
<text x="1171" y="517" font-size="9.3" fill="#000" textLength="10" lengthAdjust="spacingAndGlyphs">30</text>
<text x="1172" y="531" font-size="9.3" fill="#000" textLength="5" lengthAdjust="spacingAndGlyphs">0</text>
<rect x="6" y="535" width="1" height="3" fill="#000"/>
<text x="5" y="547" font-size="9.5" fill="#000" textLength="46" lengthAdjust="spacingAndGlyphs">24 Jul 2020</text>
<rect x="70" y="535" width="1" height="3" fill="#000"/>
<text x="69" y="547" font-size="9.5" fill="#000" textLength="52" lengthAdjust="spacingAndGlyphs">12 Aug 2020</text>
<rect x="134" y="535" width="1" height="3" fill="#000"/>
<text x="133" y="547" font-size="9.5" fill="#000" textLength="52" lengthAdjust="spacingAndGlyphs">31 Aug 2020</text>
<rect x="198" y="535" width="1" height="3" fill="#000"/>
<text x="197" y="547" font-size="9.5" fill="#000" textLength="51" lengthAdjust="spacingAndGlyphs">18 Sep 2020</text>
<rect x="262" y="535" width="1" height="3" fill="#000"/>
<text x="261" y="547" font-size="9.5" fill="#000" textLength="45" lengthAdjust="spacingAndGlyphs">7 Oct 2020</text>
<rect x="326" y="535" width="1" height="3" fill="#000"/>
<text x="325" y="547" font-size="9.5" fill="#000" textLength="51" lengthAdjust="spacingAndGlyphs">26 Oct 2020</text>
<rect x="390" y="535" width="1" height="3" fill="#000"/>
<text x="389" y="547" font-size="9.5" fill="#000" textLength="54" lengthAdjust="spacingAndGlyphs">13 Nov 2020</text>
<rect x="454" y="535" width="1" height="3" fill="#000"/>
<text x="453" y="547" font-size="9.5" fill="#000" textLength="46" lengthAdjust="spacingAndGlyphs">2 Dec 2020</text>
<rect x="518" y="535" width="1" height="3" fill="#000"/>
<text x="517" y="547" font-size="9.5" fill="#000" textLength="51" lengthAdjust="spacingAndGlyphs">21 Dec 2020</text>
<rect x="582" y="535" width="1" height="3" fill="#000"/>
<text x="581" y="547" font-size="9.5" fill="#000" textLength="49" lengthAdjust="spacingAndGlyphs">11 Jan 2021</text>
<rect x="646" y="535" width="1" height="3" fill="#000"/>
<text x="645" y="547" font-size="9.5" fill="#000" textLength="50" lengthAdjust="spacingAndGlyphs">29 Jan 2021</text>
<rect x="710" y="535" width="1" height="3" fill="#000"/>
<text x="709" y="547" font-size="9.5" fill="#000" textLength="52" lengthAdjust="spacingAndGlyphs">17 Feb 2021</text>
<rect x="774" y="535" width="1" height="3" fill="#000"/>
<text x="773" y="547" font-size="9.5" fill="#000" textLength="48" lengthAdjust="spacingAndGlyphs">8 Mar 2021</text>
<rect x="838" y="535" width="1" height="3" fill="#000"/>
<text x="837" y="547" font-size="9.5" fill="#000" textLength="52" lengthAdjust="spacingAndGlyphs">26 Mar 2021</text>
<rect x="902" y="535" width="1" height="3" fill="#000"/>
<text x="901" y="547" font-size="9.5" fill="#000" textLength="50" lengthAdjust="spacingAndGlyphs">14 Apr 2021</text>
<rect x="966" y="535" width="1" height="3" fill="#000"/>
<rect x="0" y="555" width="1211" height="1" fill="#e3e3e3"/>
<rect x="1" y="557" width="1210" height="1" fill="#000"/>
<rect x="0" y="558" width="1211" height="18" fill="#f0f0f0"/>
<rect x="2" y="557" width="1" height="19" fill="#a0a0a0"/>
<rect x="0" y="576" width="1211" height="1" fill="#f8f8f8"/>
<rect x="0" y="581" width="1211" height="1" fill="#a0a0a0"/>
<rect x="0" y="582" width="1211" height="1" fill="#f6f6f6"/>
<rect x="111" y="557" width="104" height="19" fill="#ffffff"/>
<rect x="111" y="557" width="1" height="19" fill="#000"/>
<rect x="214" y="557" width="1" height="19" fill="#000"/>
<rect x="111" y="575" width="104" height="1" fill="#000"/>
<rect x="112" y="557" width="102" height="1" fill="#ffffff"/>
<text x="19" y="571" font-size="11" fill="#6d6d6d" textLength="80" lengthAdjust="spacingAndGlyphs">EURUSD,Daily</text>
<text x="122" y="571" font-size="11" fill="#000" textLength="82" lengthAdjust="spacingAndGlyphs">AUDUSD,Daily</text>
<text x="225" y="571" font-size="11" fill="#6d6d6d" textLength="79" lengthAdjust="spacingAndGlyphs">USDCHF,Daily</text>
<text x="326" y="571" font-size="11" fill="#6d6d6d" textLength="81" lengthAdjust="spacingAndGlyphs">USDCAD,Daily</text>
<text x="429" y="571" font-size="11" fill="#6d6d6d" textLength="83" lengthAdjust="spacingAndGlyphs">USDCNH,Daily</text>
<rect x="315" y="561" width="1" height="13" fill="#808080"/>
<rect x="419" y="561" width="1" height="13" fill="#808080"/>
<rect x="523" y="561" width="1" height="13" fill="#808080"/>
<path d="M1184,565.75 L1187.5,562.5 L1187.5,569 Z" fill="#a0a0a0" shape-rendering="geometricPrecision"/>
<path d="M1202.5,562.5 L1206,565.75 L1202.5,569 Z" fill="#a0a0a0" shape-rendering="geometricPrecision"/>
<defs>
<linearGradient id="gs" x1="0" y1="0" x2="0" y2="1"><stop offset="0" stop-color="#f65050"/><stop offset="1" stop-color="#dc2c2c"/></linearGradient>
<linearGradient id="gp" x1="0" y1="0" x2="0" y2="1"><stop offset="0" stop-color="#e03232"/><stop offset="1" stop-color="#b00404"/></linearGradient>
<linearGradient id="gb" x1="0" y1="0" x2="0" y2="1"><stop offset="0" stop-color="#f2f2f2"/><stop offset="0.4" stop-color="#e8e8e8"/><stop offset="0.45" stop-color="#d9d9d9"/><stop offset="1" stop-color="#d4d4d4"/></linearGradient>
</defs>
<rect x="7" y="47" width="223" height="67" fill="#ffffff"/>
<rect x="9" y="48" width="52" height="24" fill="#c00000"/>
<rect x="9" y="72" width="109" height="40" fill="#c00000"/>
<rect x="10" y="49" width="50" height="23" fill="url(#gs)"/>
<rect x="10" y="72" width="107" height="39" fill="url(#gp)"/>
<rect x="13" y="71" width="45" height="1" fill="#900000"/>
<rect x="13" y="72" width="45" height="1" fill="#ee5a5a"/>
<text x="21" y="64" font-size="12" fill="#fff" textLength="26" lengthAdjust="spacingAndGlyphs">SELL</text>
<rect x="176" y="48" width="52" height="24" fill="#c00000"/>
<rect x="120" y="72" width="108" height="40" fill="#c00000"/>
<rect x="177" y="49" width="50" height="23" fill="url(#gs)"/>
<rect x="121" y="72" width="106" height="39" fill="url(#gp)"/>
<rect x="180" y="71" width="44" height="1" fill="#900000"/>
<rect x="180" y="72" width="44" height="1" fill="#ee5a5a"/>
<text x="190" y="64" font-size="12" fill="#fff" textLength="23" lengthAdjust="spacingAndGlyphs">BUY</text>
<rect x="63" y="48" width="111" height="22" fill="#a4a8ac"/>
<rect x="64" y="49" width="109" height="20" fill="#ffffff"/>
<rect x="65" y="50" width="18" height="18" fill="url(#gb)"/>
<rect x="84" y="49" width="1" height="20" fill="#a4a8ac"/>
<rect x="154" y="50" width="18" height="18" fill="url(#gb)"/>
<rect x="152" y="49" width="1" height="20" fill="#a4a8ac"/>
<path d="M70.5,57 L76.5,57 L73.5,60 Z" fill="#4a5cbf" shape-rendering="geometricPrecision"/>
<path d="M159.5,60 L165.5,60 L162.5,57 Z" fill="#4a5cbf" shape-rendering="geometricPrecision"/>
<text x="125" y="63" font-size="12.5" fill="#000" textLength="24" lengthAdjust="spacingAndGlyphs">3.00</text>
<text x="29" y="103" font-size="12" fill="#fff" font-weight="bold" textLength="24" lengthAdjust="spacingAndGlyphs">0.77</text>
<text x="57" y="103" font-size="33" fill="#fff" textLength="34" lengthAdjust="spacingAndGlyphs">24</text>
<text x="96" y="87" font-size="11" fill="#fff" font-weight="bold" textLength="7" lengthAdjust="spacingAndGlyphs">9</text>
<text x="139" y="103" font-size="12" fill="#fff" font-weight="bold" textLength="24" lengthAdjust="spacingAndGlyphs">0.77</text>
<text x="168" y="103" font-size="33" fill="#fff" textLength="35" lengthAdjust="spacingAndGlyphs">26</text>
<text x="207" y="87" font-size="11" fill="#fff" font-weight="bold" textLength="7" lengthAdjust="spacingAndGlyphs">3</text>
</svg>
</body></html>
